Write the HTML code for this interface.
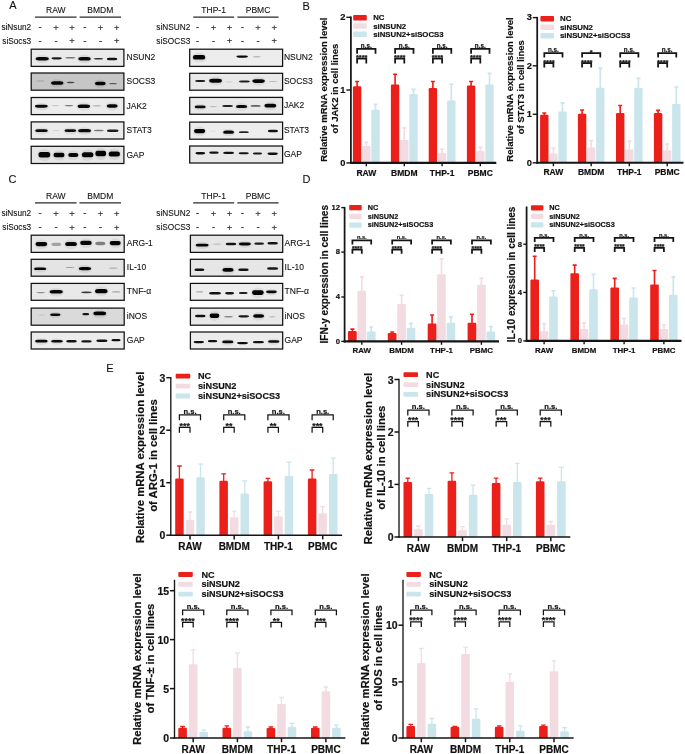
<!DOCTYPE html>
<html lang="en"><head><meta charset="utf-8"><title>Figure</title>
<style>
html,body{margin:0;padding:0;background:#fff;}
svg{display:block;}
text{font-family:'Liberation Sans', Arial, sans-serif;fill:#111;}
.r{font-weight:400;stroke:#111;stroke-width:0.1px;}
.sg{fill:#262626;stroke:#262626;stroke-width:0.12px;}
.b{font-weight:700;stroke:#111;stroke-width:0.18px;}
</style></head>
<body>
<svg width="685" height="754" viewBox="0 0 685 754">
<defs><filter id="bl" x="-5%" y="-50%" width="110%" height="200%"><feGaussianBlur stdDeviation="0.7 0.38"/></filter></defs>
<rect width="685" height="754" fill="#fff"/>
<text x="9.3" y="9.4" font-size="11" class="r">A</text>
<text x="302.5" y="9.5" font-size="11" class="r">B</text>
<text x="8.6" y="183.0" font-size="11" class="r">C</text>
<text x="302.5" y="183.0" font-size="11" class="r">D</text>
<text x="106.2" y="372.0" font-size="11" class="r">E</text>
<text x="55.8" y="13.4" font-size="8.5" class="r" text-anchor="middle">RAW</text>
<text x="100.3" y="13.4" font-size="8.5" class="r" text-anchor="middle">BMDM</text>
<line x1="35.1" y1="17.2" x2="76.6" y2="17.2" stroke="#2a2a2a" stroke-width="1.3"/>
<line x1="79.6" y1="17.2" x2="121" y2="17.2" stroke="#2a2a2a" stroke-width="1.3"/>
<text x="31.2" y="30.0" font-size="8.25" class="r" text-anchor="end">siNsun2</text>
<text x="40.2" y="29.9" font-size="9.6" class="r sg" text-anchor="middle">-</text>
<text x="56.0" y="30.5" font-size="9.4" class="r sg" text-anchor="middle">+</text>
<text x="72.1" y="30.5" font-size="9.4" class="r sg" text-anchor="middle">+</text>
<text x="84.8" y="29.9" font-size="9.6" class="r sg" text-anchor="middle">-</text>
<text x="100.6" y="30.5" font-size="9.4" class="r sg" text-anchor="middle">+</text>
<text x="116.7" y="30.5" font-size="9.4" class="r sg" text-anchor="middle">+</text>
<text x="31.2" y="43.9" font-size="8.25" class="r" text-anchor="end">siSocs3</text>
<text x="40.2" y="43.8" font-size="9.6" class="r sg" text-anchor="middle">-</text>
<text x="56.0" y="43.8" font-size="9.6" class="r sg" text-anchor="middle">-</text>
<text x="72.1" y="44.4" font-size="9.4" class="r sg" text-anchor="middle">+</text>
<text x="84.8" y="43.8" font-size="9.6" class="r sg" text-anchor="middle">-</text>
<text x="100.6" y="43.8" font-size="9.6" class="r sg" text-anchor="middle">-</text>
<text x="116.7" y="44.4" font-size="9.4" class="r sg" text-anchor="middle">+</text>
<clipPath id="cAL0"><rect x="31.2" y="49.2" width="92.7" height="17.2"/></clipPath>
<rect x="31.2" y="49.2" width="92.7" height="17.2" fill="#eaeaea"/>
<g clip-path="url(#cAL0)" filter="url(#bl)">
<ellipse cx="42.2" cy="59.0" rx="7.9" ry="4.0" fill="#000" opacity="0.07"/>
<rect x="35.7" y="57.1" width="13.1" height="3.3" rx="3.3" ry="1.7" fill="#000" opacity="0.97"/>
<rect x="51.4" y="57.3" width="10.5" height="2.1" rx="2.6" ry="1.1" fill="#000" opacity="0.88"/>
<rect x="65.2" y="56.9" width="10.2" height="1.6" rx="3.7" ry="0.8" fill="#000" opacity="0.5"/>
<ellipse cx="84.5" cy="59.0" rx="7.4" ry="4.2" fill="#000" opacity="0.07"/>
<rect x="78.3" y="57.0" width="12.4" height="3.5" rx="3.1" ry="1.8" fill="#000" opacity="0.97"/>
<rect x="93.7" y="57.9" width="9.5" height="1.6" rx="3.4" ry="0.8" fill="#000" opacity="0.8"/>
<rect x="106.8" y="57.8" width="10.5" height="2.5" rx="2.6" ry="1.3" fill="#000" opacity="0.92"/>
</g>
<rect x="31.2" y="49.2" width="92.7" height="17.2" fill="none" stroke="#111" stroke-width="1.25"/>
<text x="126.5" y="60.4" font-size="8.5" class="r">NSUN2</text>
<clipPath id="cAL1"><rect x="31.2" y="73.0" width="92.7" height="17.2"/></clipPath>
<rect x="31.2" y="73.0" width="92.7" height="17.2" fill="#c6c6c6"/>
<g clip-path="url(#cAL1)" filter="url(#bl)">
<rect x="36.4" y="80.0" width="8.0" height="1.9" rx="2.0" ry="1.0" fill="#000" opacity="0.1"/>
<ellipse cx="57.2" cy="83.2" rx="7.4" ry="4.2" fill="#000" opacity="0.07"/>
<rect x="51.1" y="81.2" width="12.3" height="3.5" rx="3.1" ry="1.8" fill="#000" opacity="0.97"/>
<rect x="66.6" y="81.8" width="8.0" height="1.4" rx="2.9" ry="0.7" fill="#000" opacity="0.65"/>
<ellipse cx="100.3" cy="83.8" rx="6.5" ry="4.2" fill="#000" opacity="0.07"/>
<rect x="94.9" y="81.8" width="10.8" height="3.5" rx="2.7" ry="1.8" fill="#000" opacity="0.97"/>
<rect x="109.0" y="83.1" width="8.0" height="1.2" rx="2.9" ry="0.6" fill="#000" opacity="0.55"/>
</g>
<rect x="31.2" y="73.0" width="92.7" height="17.2" fill="none" stroke="#111" stroke-width="1.25"/>
<text x="126.5" y="84.1" font-size="8.5" class="r">SOCS3</text>
<clipPath id="cAL2"><rect x="31.2" y="97.5" width="92.7" height="17.1"/></clipPath>
<rect x="31.2" y="97.5" width="92.7" height="17.1" fill="#ececec"/>
<g clip-path="url(#cAL2)" filter="url(#bl)">
<ellipse cx="41.4" cy="106.6" rx="7.6" ry="3.6" fill="#000" opacity="0.07"/>
<rect x="35.0" y="104.8" width="12.7" height="2.9" rx="3.2" ry="1.4" fill="#000" opacity="0.96"/>
<rect x="51.3" y="105.0" width="8.0" height="1.2" rx="2.9" ry="0.6" fill="#000" opacity="0.15"/>
<rect x="64.5" y="104.9" width="9.0" height="1.4" rx="3.2" ry="0.7" fill="#000" opacity="0.5"/>
<ellipse cx="83.8" cy="106.5" rx="7.4" ry="4.2" fill="#000" opacity="0.07"/>
<rect x="77.6" y="104.5" width="12.4" height="3.5" rx="3.1" ry="1.8" fill="#000" opacity="0.97"/>
<rect x="92.5" y="105.2" width="9.0" height="1.2" rx="3.2" ry="0.6" fill="#000" opacity="0.28"/>
<ellipse cx="112.2" cy="106.2" rx="6.6" ry="4.2" fill="#000" opacity="0.07"/>
<rect x="106.7" y="104.2" width="11.0" height="3.5" rx="2.8" ry="1.8" fill="#000" opacity="0.97"/>
</g>
<rect x="31.2" y="97.5" width="92.7" height="17.1" fill="none" stroke="#111" stroke-width="1.25"/>
<text x="126.5" y="108.6" font-size="8.5" class="r">JAK2</text>
<clipPath id="cAL3"><rect x="31.2" y="121.9" width="92.7" height="17.1"/></clipPath>
<rect x="31.2" y="121.9" width="92.7" height="17.1" fill="#ebebeb"/>
<g clip-path="url(#cAL3)" filter="url(#bl)">
<ellipse cx="41.5" cy="131.0" rx="7.4" ry="3.6" fill="#000" opacity="0.07"/>
<rect x="35.3" y="129.2" width="12.4" height="2.9" rx="3.1" ry="1.4" fill="#000" opacity="0.95"/>
<rect x="52.1" y="129.9" width="8.0" height="1.2" rx="2.9" ry="0.6" fill="#000" opacity="0.1"/>
<ellipse cx="70.3" cy="131.0" rx="7.0" ry="3.4" fill="#000" opacity="0.07"/>
<rect x="64.5" y="129.3" width="11.7" height="2.7" rx="2.9" ry="1.4" fill="#000" opacity="0.93"/>
<ellipse cx="84.6" cy="131.0" rx="7.6" ry="3.8" fill="#000" opacity="0.07"/>
<rect x="78.2" y="129.1" width="12.7" height="3.1" rx="3.2" ry="1.6" fill="#000" opacity="0.95"/>
<rect x="93.8" y="129.7" width="10.0" height="1.6" rx="3.6" ry="0.8" fill="#000" opacity="0.5"/>
<rect x="106.9" y="129.4" width="11.7" height="2.5" rx="2.9" ry="1.3" fill="#000" opacity="0.88"/>
</g>
<rect x="31.2" y="121.9" width="92.7" height="17.1" fill="none" stroke="#111" stroke-width="1.25"/>
<text x="126.5" y="133.0" font-size="8.5" class="r">STAT3</text>
<clipPath id="cAL4"><rect x="31.2" y="146.3" width="92.7" height="17.2"/></clipPath>
<rect x="31.2" y="146.3" width="92.7" height="17.2" fill="#e6e6e6"/>
<g clip-path="url(#cAL4)" filter="url(#bl)">
<ellipse cx="44.4" cy="155.1" rx="7.0" ry="6.1" fill="#000" opacity="0.07"/>
<rect x="38.5" y="152.1" width="11.7" height="5.5" rx="2.3" ry="2.8" fill="#000" opacity="0.98"/>
<ellipse cx="59.0" cy="155.3" rx="6.6" ry="5.2" fill="#000" opacity="0.07"/>
<rect x="53.5" y="152.7" width="11.0" height="4.6" rx="2.2" ry="2.3" fill="#000" opacity="0.98"/>
<ellipse cx="73.3" cy="155.3" rx="6.1" ry="4.8" fill="#000" opacity="0.07"/>
<rect x="68.2" y="152.9" width="10.2" height="4.1" rx="2.5" ry="2.0" fill="#000" opacity="0.98"/>
<ellipse cx="87.6" cy="155.1" rx="7.0" ry="5.7" fill="#000" opacity="0.07"/>
<rect x="81.8" y="152.2" width="11.7" height="5.1" rx="2.3" ry="2.5" fill="#000" opacity="0.98"/>
<ellipse cx="100.7" cy="153.9" rx="6.4" ry="6.1" fill="#000" opacity="0.07"/>
<rect x="95.4" y="150.8" width="10.7" height="5.5" rx="2.1" ry="2.8" fill="#000" opacity="0.98"/>
<ellipse cx="114.3" cy="154.3" rx="6.8" ry="5.7" fill="#000" opacity="0.07"/>
<rect x="108.6" y="151.4" width="11.4" height="5.1" rx="2.3" ry="2.5" fill="#000" opacity="0.98"/>
</g>
<rect x="31.2" y="146.3" width="92.7" height="17.2" fill="none" stroke="#111" stroke-width="1.25"/>
<text x="126.5" y="157.5" font-size="8.5" class="r">GAP</text>
<text x="213.6" y="13.4" font-size="8.5" class="r" text-anchor="middle">THP-1</text>
<text x="258.0" y="13.4" font-size="8.5" class="r" text-anchor="middle">PBMC</text>
<line x1="193.2" y1="17.2" x2="234.2" y2="17.2" stroke="#2a2a2a" stroke-width="1.3"/>
<line x1="237.4" y1="17.2" x2="278.6" y2="17.2" stroke="#2a2a2a" stroke-width="1.3"/>
<text x="190.3" y="30.0" font-size="8.25" class="r" text-anchor="end">siNSUN2</text>
<text x="197.7" y="29.9" font-size="9.6" class="r sg" text-anchor="middle">-</text>
<text x="213.5" y="30.5" font-size="9.4" class="r sg" text-anchor="middle">+</text>
<text x="229.6" y="30.5" font-size="9.4" class="r sg" text-anchor="middle">+</text>
<text x="242.3" y="29.9" font-size="9.6" class="r sg" text-anchor="middle">-</text>
<text x="258.1" y="30.5" font-size="9.4" class="r sg" text-anchor="middle">+</text>
<text x="274.2" y="30.5" font-size="9.4" class="r sg" text-anchor="middle">+</text>
<text x="190.3" y="43.9" font-size="8.25" class="r" text-anchor="end">siSOCS3</text>
<text x="197.7" y="43.8" font-size="9.6" class="r sg" text-anchor="middle">-</text>
<text x="213.5" y="43.8" font-size="9.6" class="r sg" text-anchor="middle">-</text>
<text x="229.6" y="44.4" font-size="9.4" class="r sg" text-anchor="middle">+</text>
<text x="242.3" y="43.8" font-size="9.6" class="r sg" text-anchor="middle">-</text>
<text x="258.1" y="43.8" font-size="9.6" class="r sg" text-anchor="middle">-</text>
<text x="274.2" y="44.4" font-size="9.4" class="r sg" text-anchor="middle">+</text>
<clipPath id="cAR0"><rect x="189.7" y="49.2" width="92.9" height="17.2"/></clipPath>
<rect x="189.7" y="49.2" width="92.9" height="17.2" fill="#ededed"/>
<g clip-path="url(#cAR0)" filter="url(#bl)">
<ellipse cx="199.1" cy="57.7" rx="7.4" ry="5.1" fill="#000" opacity="0.07"/>
<rect x="192.9" y="55.1" width="12.3" height="4.5" rx="2.5" ry="2.2" fill="#000" opacity="1"/>
<rect x="236.3" y="55.4" width="11.7" height="2.3" rx="2.9" ry="1.2" fill="#000" opacity="0.96"/>
<rect x="252.8" y="56.0" width="8.0" height="1.4" rx="2.9" ry="0.7" fill="#000" opacity="0.22"/>
</g>
<rect x="189.7" y="49.2" width="92.9" height="17.2" fill="none" stroke="#111" stroke-width="1.25"/>
<text x="283.9" y="60.4" font-size="8.5" class="r">NSUN2</text>
<clipPath id="cAR1"><rect x="189.7" y="73.3" width="92.9" height="16.9"/></clipPath>
<rect x="189.7" y="73.3" width="92.9" height="16.9" fill="#e9e9e9"/>
<g clip-path="url(#cAR1)" filter="url(#bl)">
<rect x="195.1" y="79.9" width="10.2" height="2.1" rx="2.5" ry="1.1" fill="#000" opacity="0.88"/>
<ellipse cx="215.6" cy="81.0" rx="7.6" ry="4.6" fill="#000" opacity="0.07"/>
<rect x="209.2" y="78.8" width="12.7" height="3.9" rx="3.2" ry="1.9" fill="#000" opacity="0.98"/>
<rect x="225.1" y="81.2" width="8.0" height="1.2" rx="2.9" ry="0.6" fill="#000" opacity="0.1"/>
<rect x="238.9" y="80.4" width="11.0" height="2.1" rx="2.8" ry="1.1" fill="#000" opacity="0.88"/>
<ellipse cx="258.6" cy="81.3" rx="7.4" ry="4.4" fill="#000" opacity="0.07"/>
<rect x="252.4" y="79.2" width="12.4" height="3.7" rx="3.1" ry="1.8" fill="#000" opacity="0.98"/>
<rect x="268.5" y="80.9" width="9.0" height="1.2" rx="3.2" ry="0.6" fill="#000" opacity="0.2"/>
</g>
<rect x="189.7" y="73.3" width="92.9" height="16.9" fill="none" stroke="#111" stroke-width="1.25"/>
<text x="283.9" y="84.3" font-size="8.5" class="r">SOCS3</text>
<clipPath id="cAR2"><rect x="189.7" y="97.4" width="92.9" height="16.9"/></clipPath>
<rect x="189.7" y="97.4" width="92.9" height="16.9" fill="#e8e8e8"/>
<g clip-path="url(#cAR2)" filter="url(#bl)">
<ellipse cx="200.2" cy="107.2" rx="6.6" ry="3.4" fill="#000" opacity="0.07"/>
<rect x="194.7" y="105.6" width="11.0" height="2.7" rx="2.8" ry="1.4" fill="#000" opacity="0.95"/>
<rect x="209.3" y="106.0" width="8.0" height="1.2" rx="2.9" ry="0.6" fill="#000" opacity="0.18"/>
<rect x="222.2" y="105.0" width="10.8" height="2.1" rx="2.7" ry="1.1" fill="#000" opacity="0.85"/>
<ellipse cx="241.6" cy="106.9" rx="6.7" ry="3.8" fill="#000" opacity="0.07"/>
<rect x="236.0" y="105.0" width="11.2" height="3.1" rx="2.8" ry="1.6" fill="#000" opacity="0.96"/>
<rect x="250.6" y="105.0" width="10.0" height="1.8" rx="3.6" ry="0.9" fill="#000" opacity="0.6"/>
<ellipse cx="270.4" cy="105.9" rx="7.0" ry="4.4" fill="#000" opacity="0.07"/>
<rect x="264.5" y="103.8" width="11.7" height="3.7" rx="2.9" ry="1.8" fill="#000" opacity="0.98"/>
</g>
<rect x="189.7" y="97.4" width="92.9" height="16.9" fill="none" stroke="#111" stroke-width="1.25"/>
<text x="283.9" y="108.4" font-size="8.5" class="r">JAK2</text>
<clipPath id="cAR3"><rect x="189.7" y="122.1" width="92.9" height="17.1"/></clipPath>
<rect x="189.7" y="122.1" width="92.9" height="17.1" fill="#ededed"/>
<g clip-path="url(#cAR3)" filter="url(#bl)">
<ellipse cx="199.6" cy="131.4" rx="6.7" ry="4.9" fill="#000" opacity="0.07"/>
<rect x="194.0" y="128.9" width="11.2" height="4.3" rx="2.2" ry="2.1" fill="#000" opacity="1"/>
<rect x="210.0" y="130.7" width="6.0" height="1.2" rx="2.2" ry="0.6" fill="#000" opacity="0.07"/>
<ellipse cx="228.6" cy="132.5" rx="6.6" ry="3.8" fill="#000" opacity="0.07"/>
<rect x="223.1" y="130.6" width="11.0" height="3.1" rx="2.8" ry="1.6" fill="#000" opacity="0.97"/>
<rect x="238.8" y="131.2" width="10.0" height="1.9" rx="2.5" ry="1.0" fill="#000" opacity="0.85"/>
<rect x="267.8" y="129.8" width="10.2" height="2.5" rx="2.5" ry="1.3" fill="#000" opacity="0.92"/>
</g>
<rect x="189.7" y="122.1" width="92.9" height="17.1" fill="none" stroke="#111" stroke-width="1.25"/>
<text x="283.9" y="133.2" font-size="8.5" class="r">STAT3</text>
<clipPath id="cAR4"><rect x="189.7" y="146.0" width="92.9" height="17.0"/></clipPath>
<rect x="189.7" y="146.0" width="92.9" height="17.0" fill="#e9e9e9"/>
<g clip-path="url(#cAR4)" filter="url(#bl)">
<rect x="195.4" y="152.1" width="9.8" height="2.3" rx="2.5" ry="1.2" fill="#000" opacity="0.93"/>
<rect x="209.2" y="151.6" width="9.5" height="2.1" rx="2.4" ry="1.1" fill="#000" opacity="0.92"/>
<rect x="223.1" y="151.8" width="11.0" height="2.3" rx="2.8" ry="1.2" fill="#000" opacity="0.93"/>
<rect x="238.6" y="152.2" width="10.2" height="2.1" rx="2.5" ry="1.1" fill="#000" opacity="0.92"/>
<rect x="252.8" y="152.5" width="9.3" height="1.9" rx="2.3" ry="1.0" fill="#000" opacity="0.9"/>
<rect x="267.4" y="152.6" width="10.5" height="2.3" rx="2.6" ry="1.2" fill="#000" opacity="0.93"/>
</g>
<rect x="189.7" y="146.0" width="92.9" height="17.0" fill="none" stroke="#111" stroke-width="1.25"/>
<text x="283.9" y="157.1" font-size="8.5" class="r">GAP</text>
<text x="55.8" y="199.3" font-size="8.5" class="r" text-anchor="middle">RAW</text>
<text x="100.3" y="199.3" font-size="8.5" class="r" text-anchor="middle">BMDM</text>
<line x1="35.1" y1="202.8" x2="76.6" y2="202.8" stroke="#2a2a2a" stroke-width="1.3"/>
<line x1="79.4" y1="202.8" x2="121" y2="202.8" stroke="#2a2a2a" stroke-width="1.3"/>
<text x="31.2" y="216.2" font-size="8.25" class="r" text-anchor="end">siNsun2</text>
<text x="40.2" y="216.1" font-size="9.6" class="r sg" text-anchor="middle">-</text>
<text x="56.0" y="216.7" font-size="9.4" class="r sg" text-anchor="middle">+</text>
<text x="72.1" y="216.7" font-size="9.4" class="r sg" text-anchor="middle">+</text>
<text x="84.8" y="216.1" font-size="9.6" class="r sg" text-anchor="middle">-</text>
<text x="100.6" y="216.7" font-size="9.4" class="r sg" text-anchor="middle">+</text>
<text x="116.7" y="216.7" font-size="9.4" class="r sg" text-anchor="middle">+</text>
<text x="31.2" y="230.2" font-size="8.25" class="r" text-anchor="end">siSocs3</text>
<text x="40.2" y="230.1" font-size="9.6" class="r sg" text-anchor="middle">-</text>
<text x="56.0" y="230.1" font-size="9.6" class="r sg" text-anchor="middle">-</text>
<text x="72.1" y="230.7" font-size="9.4" class="r sg" text-anchor="middle">+</text>
<text x="84.8" y="230.1" font-size="9.6" class="r sg" text-anchor="middle">-</text>
<text x="100.6" y="230.1" font-size="9.6" class="r sg" text-anchor="middle">-</text>
<text x="116.7" y="230.7" font-size="9.4" class="r sg" text-anchor="middle">+</text>
<clipPath id="cCL0"><rect x="31.2" y="235.2" width="93.0" height="17.2"/></clipPath>
<rect x="31.2" y="235.2" width="93.0" height="17.2" fill="#e8e8e8"/>
<g clip-path="url(#cCL0)" filter="url(#bl)">
<ellipse cx="41.4" cy="244.4" rx="7.0" ry="4.9" fill="#000" opacity="0.07"/>
<rect x="35.5" y="241.9" width="11.7" height="4.3" rx="2.3" ry="2.1" fill="#000" opacity="0.98"/>
<rect x="51.3" y="242.8" width="10.0" height="3.1" rx="2.5" ry="1.6" fill="#000" opacity="0.3"/>
<ellipse cx="71.1" cy="244.3" rx="7.0" ry="4.8" fill="#000" opacity="0.07"/>
<rect x="65.2" y="241.9" width="11.7" height="4.1" rx="2.9" ry="2.0" fill="#000" opacity="0.98"/>
<ellipse cx="86.0" cy="243.3" rx="6.9" ry="4.9" fill="#000" opacity="0.07"/>
<rect x="80.2" y="240.8" width="11.5" height="4.3" rx="2.3" ry="2.1" fill="#000" opacity="0.98"/>
<rect x="95.2" y="241.7" width="10.2" height="3.5" rx="2.5" ry="1.8" fill="#000" opacity="0.45"/>
<ellipse cx="115.2" cy="243.4" rx="6.6" ry="4.9" fill="#000" opacity="0.07"/>
<rect x="109.7" y="240.9" width="11.0" height="4.3" rx="2.2" ry="2.1" fill="#000" opacity="0.98"/>
</g>
<rect x="31.2" y="235.2" width="93.0" height="17.2" fill="none" stroke="#111" stroke-width="1.25"/>
<text x="126.8" y="246.4" font-size="8.5" class="r">ARG-1</text>
<clipPath id="cCL1"><rect x="31.2" y="259.3" width="93.0" height="16.9"/></clipPath>
<rect x="31.2" y="259.3" width="93.0" height="16.9" fill="#e4e4e4"/>
<g clip-path="url(#cCL1)" filter="url(#bl)">
<ellipse cx="40.1" cy="269.2" rx="7.3" ry="3.2" fill="#000" opacity="0.07"/>
<rect x="34.1" y="267.6" width="12.1" height="2.5" rx="3.0" ry="1.2" fill="#000" opacity="0.97"/>
<rect x="65.5" y="266.9" width="9.0" height="1.2" rx="3.2" ry="0.6" fill="#000" opacity="0.3"/>
<ellipse cx="84.9" cy="268.8" rx="7.4" ry="4.0" fill="#000" opacity="0.07"/>
<rect x="78.8" y="266.9" width="12.3" height="3.3" rx="3.1" ry="1.7" fill="#000" opacity="0.98"/>
<rect x="108.9" y="267.5" width="9.0" height="1.2" rx="3.2" ry="0.6" fill="#000" opacity="0.25"/>
</g>
<rect x="31.2" y="259.3" width="93.0" height="16.9" fill="none" stroke="#111" stroke-width="1.25"/>
<text x="126.8" y="270.3" font-size="8.5" class="r">IL-10</text>
<clipPath id="cCL2"><rect x="31.2" y="283.4" width="93.0" height="16.9"/></clipPath>
<rect x="31.2" y="283.4" width="93.0" height="16.9" fill="#e9e9e9"/>
<g clip-path="url(#cCL2)" filter="url(#bl)">
<rect x="36.2" y="291.9" width="9.0" height="1.4" rx="3.2" ry="0.7" fill="#000" opacity="0.4"/>
<ellipse cx="56.2" cy="292.2" rx="7.9" ry="4.2" fill="#000" opacity="0.07"/>
<rect x="49.7" y="290.1" width="13.1" height="3.5" rx="3.3" ry="1.8" fill="#000" opacity="0.98"/>
<rect x="81.2" y="291.4" width="10.5" height="1.8" rx="3.8" ry="0.9" fill="#000" opacity="0.75"/>
<ellipse cx="101.3" cy="291.4" rx="7.4" ry="4.8" fill="#000" opacity="0.07"/>
<rect x="95.1" y="289.1" width="12.4" height="4.1" rx="3.1" ry="2.0" fill="#000" opacity="1"/>
<rect x="111.7" y="291.2" width="9.0" height="1.4" rx="3.2" ry="0.7" fill="#000" opacity="0.3"/>
</g>
<rect x="31.2" y="283.4" width="93.0" height="16.9" fill="none" stroke="#111" stroke-width="1.25"/>
<text x="126.8" y="294.4" font-size="8.5" class="r">TNF-α</text>
<clipPath id="cCL3"><rect x="31.2" y="308.1" width="93.0" height="17.1"/></clipPath>
<rect x="31.2" y="308.1" width="93.0" height="17.1" fill="#dadada"/>
<g clip-path="url(#cCL3)" filter="url(#bl)">
<rect x="38.4" y="314.4" width="7.0" height="1.2" rx="2.5" ry="0.6" fill="#000" opacity="0.1"/>
<ellipse cx="55.3" cy="315.0" rx="6.1" ry="3.2" fill="#000" opacity="0.07"/>
<rect x="50.2" y="313.4" width="10.2" height="2.5" rx="2.5" ry="1.2" fill="#000" opacity="0.96"/>
<rect x="82.4" y="313.1" width="6.7" height="2.1" rx="1.7" ry="1.1" fill="#000" opacity="0.9"/>
<ellipse cx="99.7" cy="313.8" rx="7.6" ry="4.4" fill="#000" opacity="0.07"/>
<rect x="93.4" y="311.6" width="12.7" height="3.7" rx="3.2" ry="1.8" fill="#000" opacity="0.99"/>
</g>
<rect x="31.2" y="308.1" width="93.0" height="17.1" fill="none" stroke="#111" stroke-width="1.25"/>
<text x="126.8" y="319.2" font-size="8.5" class="r">iNOS</text>
<clipPath id="cCL4"><rect x="31.2" y="332.0" width="93.0" height="17.0"/></clipPath>
<rect x="31.2" y="332.0" width="93.0" height="17.0" fill="#ececec"/>
<g clip-path="url(#cCL4)" filter="url(#bl)">
<ellipse cx="41.4" cy="341.5" rx="7.4" ry="3.4" fill="#000" opacity="0.07"/>
<rect x="35.2" y="339.8" width="12.4" height="2.7" rx="3.1" ry="1.4" fill="#000" opacity="0.96"/>
<ellipse cx="57.0" cy="341.5" rx="6.8" ry="3.2" fill="#000" opacity="0.07"/>
<rect x="51.3" y="339.9" width="11.4" height="2.5" rx="2.9" ry="1.2" fill="#000" opacity="0.96"/>
<rect x="66.2" y="339.9" width="10.6" height="2.5" rx="2.6" ry="1.3" fill="#000" opacity="0.93"/>
<rect x="81.2" y="340.3" width="10.5" height="2.3" rx="2.6" ry="1.2" fill="#000" opacity="0.92"/>
<rect x="96.3" y="339.5" width="11.2" height="2.5" rx="2.8" ry="1.3" fill="#000" opacity="0.93"/>
<rect x="111.4" y="339.0" width="9.2" height="2.3" rx="2.3" ry="1.2" fill="#000" opacity="0.94"/>
</g>
<rect x="31.2" y="332.0" width="93.0" height="17.0" fill="none" stroke="#111" stroke-width="1.25"/>
<text x="126.8" y="343.1" font-size="8.5" class="r">GAP</text>
<text x="213.6" y="199.3" font-size="8.5" class="r" text-anchor="middle">THP-1</text>
<text x="258.0" y="199.3" font-size="8.5" class="r" text-anchor="middle">PBMC</text>
<line x1="193.2" y1="202.8" x2="234.2" y2="202.8" stroke="#2a2a2a" stroke-width="1.3"/>
<line x1="237.4" y1="202.8" x2="278.6" y2="202.8" stroke="#2a2a2a" stroke-width="1.3"/>
<text x="190.3" y="216.2" font-size="8.25" class="r" text-anchor="end">siNSUN2</text>
<text x="197.7" y="216.1" font-size="9.6" class="r sg" text-anchor="middle">-</text>
<text x="213.5" y="216.7" font-size="9.4" class="r sg" text-anchor="middle">+</text>
<text x="229.6" y="216.7" font-size="9.4" class="r sg" text-anchor="middle">+</text>
<text x="242.3" y="216.1" font-size="9.6" class="r sg" text-anchor="middle">-</text>
<text x="258.1" y="216.7" font-size="9.4" class="r sg" text-anchor="middle">+</text>
<text x="274.2" y="216.7" font-size="9.4" class="r sg" text-anchor="middle">+</text>
<text x="190.3" y="230.2" font-size="8.25" class="r" text-anchor="end">siSOCS3</text>
<text x="197.7" y="230.1" font-size="9.6" class="r sg" text-anchor="middle">-</text>
<text x="213.5" y="230.1" font-size="9.6" class="r sg" text-anchor="middle">-</text>
<text x="229.6" y="230.7" font-size="9.4" class="r sg" text-anchor="middle">+</text>
<text x="242.3" y="230.1" font-size="9.6" class="r sg" text-anchor="middle">-</text>
<text x="258.1" y="230.1" font-size="9.6" class="r sg" text-anchor="middle">-</text>
<text x="274.2" y="230.7" font-size="9.4" class="r sg" text-anchor="middle">+</text>
<clipPath id="cCR0"><rect x="190.4" y="235.2" width="92.3" height="17.2"/></clipPath>
<rect x="190.4" y="235.2" width="92.3" height="17.2" fill="#e6e6e6"/>
<g clip-path="url(#cCR0)" filter="url(#bl)">
<ellipse cx="202.2" cy="245.4" rx="7.6" ry="3.6" fill="#000" opacity="0.07"/>
<rect x="195.8" y="243.7" width="12.7" height="2.9" rx="3.2" ry="1.4" fill="#000" opacity="0.97"/>
<rect x="212.5" y="243.5" width="9.0" height="1.2" rx="3.2" ry="0.6" fill="#000" opacity="0.18"/>
<rect x="225.7" y="242.7" width="10.6" height="2.5" rx="2.6" ry="1.3" fill="#000" opacity="0.92"/>
<ellipse cx="244.8" cy="244.3" rx="7.3" ry="3.6" fill="#000" opacity="0.07"/>
<rect x="238.8" y="242.6" width="12.1" height="2.9" rx="3.0" ry="1.4" fill="#000" opacity="0.97"/>
<rect x="254.2" y="242.6" width="9.8" height="2.1" rx="2.5" ry="1.1" fill="#000" opacity="0.88"/>
<rect x="267.4" y="242.1" width="10.5" height="2.5" rx="2.6" ry="1.3" fill="#000" opacity="0.92"/>
</g>
<rect x="190.4" y="235.2" width="92.3" height="17.2" fill="none" stroke="#111" stroke-width="1.25"/>
<text x="284.6" y="246.4" font-size="8.5" class="r">ARG-1</text>
<clipPath id="cCR1"><rect x="190.4" y="259.3" width="92.3" height="16.9"/></clipPath>
<rect x="190.4" y="259.3" width="92.3" height="16.9" fill="#e6e6e6"/>
<g clip-path="url(#cCR1)" filter="url(#bl)">
<rect x="194.4" y="268.4" width="10.0" height="2.5" rx="2.5" ry="1.3" fill="#000" opacity="0.93"/>
<ellipse cx="228.0" cy="270.3" rx="6.7" ry="4.4" fill="#000" opacity="0.07"/>
<rect x="222.4" y="268.1" width="11.2" height="3.7" rx="2.8" ry="1.8" fill="#000" opacity="0.98"/>
<rect x="238.2" y="268.4" width="10.5" height="2.5" rx="2.6" ry="1.3" fill="#000" opacity="0.92"/>
<rect x="267.0" y="267.2" width="11.2" height="2.5" rx="2.8" ry="1.3" fill="#000" opacity="0.9"/>
</g>
<rect x="190.4" y="259.3" width="92.3" height="16.9" fill="none" stroke="#111" stroke-width="1.25"/>
<text x="284.6" y="270.3" font-size="8.5" class="r">IL-10</text>
<clipPath id="cCR2"><rect x="190.4" y="283.4" width="92.3" height="16.9"/></clipPath>
<rect x="190.4" y="283.4" width="92.3" height="16.9" fill="#ededed"/>
<g clip-path="url(#cCR2)" filter="url(#bl)">
<rect x="195.9" y="291.3" width="7.5" height="1.2" rx="2.7" ry="0.6" fill="#000" opacity="0.3"/>
<rect x="209.0" y="292.0" width="12.0" height="2.5" rx="3.0" ry="1.3" fill="#000" opacity="0.93"/>
<rect x="225.1" y="292.1" width="9.0" height="2.3" rx="2.2" ry="1.2" fill="#000" opacity="0.9"/>
<rect x="238.8" y="292.0" width="8.8" height="1.9" rx="2.2" ry="1.0" fill="#000" opacity="0.88"/>
<ellipse cx="257.8" cy="292.9" rx="7.0" ry="5.3" fill="#000" opacity="0.07"/>
<rect x="252.0" y="290.2" width="11.7" height="4.7" rx="2.3" ry="2.3" fill="#000" opacity="1"/>
<ellipse cx="271.4" cy="292.2" rx="6.5" ry="3.4" fill="#000" opacity="0.07"/>
<rect x="266.0" y="290.5" width="10.8" height="2.7" rx="2.7" ry="1.4" fill="#000" opacity="0.96"/>
</g>
<rect x="190.4" y="283.4" width="92.3" height="16.9" fill="none" stroke="#111" stroke-width="1.25"/>
<text x="284.6" y="294.4" font-size="8.5" class="r">TNF-α</text>
<clipPath id="cCR3"><rect x="190.4" y="308.1" width="92.3" height="17.1"/></clipPath>
<rect x="190.4" y="308.1" width="92.3" height="17.1" fill="#e8e8e8"/>
<g clip-path="url(#cCR3)" filter="url(#bl)">
<rect x="195.0" y="314.7" width="10.6" height="2.5" rx="2.6" ry="1.3" fill="#000" opacity="0.93"/>
<ellipse cx="214.5" cy="316.0" rx="5.8" ry="4.9" fill="#000" opacity="0.07"/>
<rect x="209.7" y="313.6" width="9.6" height="4.3" rx="1.9" ry="2.1" fill="#000" opacity="0.99"/>
<rect x="224.0" y="316.1" width="9.0" height="1.4" rx="3.2" ry="0.7" fill="#000" opacity="0.42"/>
<rect x="238.3" y="315.2" width="10.8" height="2.3" rx="2.7" ry="1.2" fill="#000" opacity="0.9"/>
<ellipse cx="258.6" cy="316.3" rx="6.6" ry="4.2" fill="#000" opacity="0.07"/>
<rect x="253.1" y="314.2" width="11.0" height="3.5" rx="2.8" ry="1.8" fill="#000" opacity="0.98"/>
<rect x="269.1" y="316.2" width="6.5" height="1.2" rx="2.3" ry="0.6" fill="#000" opacity="0.22"/>
</g>
<rect x="190.4" y="308.1" width="92.3" height="17.1" fill="none" stroke="#111" stroke-width="1.25"/>
<text x="284.6" y="319.2" font-size="8.5" class="r">iNOS</text>
<clipPath id="cCR4"><rect x="190.4" y="332.0" width="92.3" height="17.0"/></clipPath>
<rect x="190.4" y="332.0" width="92.3" height="17.0" fill="#ececec"/>
<g clip-path="url(#cCR4)" filter="url(#bl)">
<rect x="193.5" y="340.9" width="10.6" height="2.3" rx="2.6" ry="1.2" fill="#000" opacity="0.95"/>
<rect x="207.8" y="340.0" width="9.5" height="2.3" rx="2.4" ry="1.2" fill="#000" opacity="0.93"/>
<ellipse cx="227.8" cy="342.3" rx="6.7" ry="3.4" fill="#000" opacity="0.07"/>
<rect x="222.2" y="340.6" width="11.2" height="2.7" rx="2.8" ry="1.4" fill="#000" opacity="0.96"/>
<rect x="237.0" y="341.9" width="11.0" height="2.3" rx="2.8" ry="1.2" fill="#000" opacity="0.95"/>
<rect x="252.8" y="341.0" width="11.2" height="2.3" rx="2.8" ry="1.2" fill="#000" opacity="0.93"/>
<ellipse cx="273.7" cy="341.8" rx="6.8" ry="3.2" fill="#000" opacity="0.07"/>
<rect x="268.0" y="340.2" width="11.4" height="2.5" rx="2.9" ry="1.2" fill="#000" opacity="0.96"/>
</g>
<rect x="190.4" y="332.0" width="92.3" height="17.0" fill="none" stroke="#111" stroke-width="1.25"/>
<text x="284.6" y="343.1" font-size="8.5" class="r">GAP</text>
<path d="M357.1 87.2V81.5M355.1 81.5H359.1" stroke="#EB201B" stroke-width="1.65" fill="none"/>
<path d="M352.9 162.9V87.4Q352.9 86.2 354.1 86.2H360.1Q361.3 86.2 361.3 87.4V162.9Z" fill="#EB201B"/>
<path d="M366.3 147.0V142.4M364.3 142.4H368.3" stroke="#F2DCE1" stroke-width="1.65" fill="none"/>
<path d="M362.1 162.9V147.2Q362.1 146.0 363.3 146.0H369.3Q370.5 146.0 370.5 147.2V162.9Z" fill="#F2DCE1"/>
<path d="M375.5 110.7V104.3M373.5 104.3H377.5" stroke="#CBE5EC" stroke-width="1.65" fill="none"/>
<path d="M371.3 162.9V110.9Q371.3 109.7 372.5 109.7H378.5Q379.7 109.7 379.7 110.9V162.9Z" fill="#CBE5EC"/>
<path d="M395.1 85.6V74.2M393.1 74.2H397.1" stroke="#EB201B" stroke-width="1.65" fill="none"/>
<path d="M390.9 162.9V85.8Q390.9 84.6 392.1 84.6H398.1Q399.3 84.6 399.3 85.8V162.9Z" fill="#EB201B"/>
<path d="M404.3 140.9V127.9M402.3 127.9H406.3" stroke="#F2DCE1" stroke-width="1.65" fill="none"/>
<path d="M400.1 162.9V141.1Q400.1 139.9 401.3 139.9H407.3Q408.5 139.9 408.5 141.1V162.9Z" fill="#F2DCE1"/>
<path d="M413.5 95.0V89.4M411.5 89.4H415.5" stroke="#CBE5EC" stroke-width="1.65" fill="none"/>
<path d="M409.3 162.9V95.2Q409.3 94.0 410.5 94.0H416.5Q417.7 94.0 417.7 95.2V162.9Z" fill="#CBE5EC"/>
<path d="M432.9 89.0V81.5M430.9 81.5H434.9" stroke="#EB201B" stroke-width="1.65" fill="none"/>
<path d="M428.7 162.9V89.2Q428.7 88.0 429.9 88.0H435.9Q437.1 88.0 437.1 89.2V162.9Z" fill="#EB201B"/>
<path d="M442.1 154.0V149.2M440.1 149.2H444.1" stroke="#F2DCE1" stroke-width="1.65" fill="none"/>
<path d="M437.9 162.9V154.2Q437.9 153.0 439.1 153.0H445.1Q446.3 153.0 446.3 154.2V162.9Z" fill="#F2DCE1"/>
<path d="M451.3 101.5V84.2M449.3 84.2H453.3" stroke="#CBE5EC" stroke-width="1.65" fill="none"/>
<path d="M447.1 162.9V101.7Q447.1 100.5 448.3 100.5H454.3Q455.5 100.5 455.5 101.7V162.9Z" fill="#CBE5EC"/>
<path d="M471.1 86.4V81.5M469.1 81.5H473.1" stroke="#EB201B" stroke-width="1.65" fill="none"/>
<path d="M466.9 162.9V86.6Q466.9 85.4 468.1 85.4H474.1Q475.3 85.4 475.3 86.6V162.9Z" fill="#EB201B"/>
<path d="M480.3 152.0V147.1M478.3 147.1H482.3" stroke="#F2DCE1" stroke-width="1.65" fill="none"/>
<path d="M476.1 162.9V152.2Q476.1 151.0 477.3 151.0H483.3Q484.5 151.0 484.5 152.2V162.9Z" fill="#F2DCE1"/>
<path d="M489.5 85.6V73.4M487.5 73.4H491.5" stroke="#CBE5EC" stroke-width="1.65" fill="none"/>
<path d="M485.3 162.9V85.8Q485.3 84.6 486.5 84.6H492.5Q493.7 84.6 493.7 85.8V162.9Z" fill="#CBE5EC"/>
<path d="M350.9 16.6V163.95" stroke="#151515" stroke-width="1.75" fill="none"/>
<path d="M350.02 162.9H496.3" stroke="#151515" stroke-width="2.1" fill="none"/>
<line x1="346.4" y1="17.3" x2="350.9" y2="17.3" stroke="#151515" stroke-width="1.4"/>
<text x="345.5" y="20.1" font-size="9.3" class="b" text-anchor="end">2</text>
<line x1="346.4" y1="90" x2="350.9" y2="90" stroke="#151515" stroke-width="1.4"/>
<text x="345.5" y="92.8" font-size="9.3" class="b" text-anchor="end">1</text>
<line x1="346.4" y1="162.9" x2="350.9" y2="162.9" stroke="#151515" stroke-width="1.4"/>
<text x="345.5" y="165.7" font-size="9.3" class="b" text-anchor="end">0</text>
<line x1="366.3" y1="162.9" x2="366.3" y2="166.3" stroke="#151515" stroke-width="1.4"/>
<text x="366.3" y="175.8" font-size="8.5" class="b" text-anchor="middle">RAW</text>
<line x1="404.3" y1="162.9" x2="404.3" y2="166.3" stroke="#151515" stroke-width="1.4"/>
<text x="404.3" y="175.8" font-size="8.5" class="b" text-anchor="middle">BMDM</text>
<line x1="442.1" y1="162.9" x2="442.1" y2="166.3" stroke="#151515" stroke-width="1.4"/>
<text x="442.1" y="175.8" font-size="8.5" class="b" text-anchor="middle">THP-1</text>
<line x1="480.3" y1="162.9" x2="480.3" y2="166.3" stroke="#151515" stroke-width="1.4"/>
<text x="480.3" y="175.8" font-size="8.5" class="b" text-anchor="middle">PBMC</text>
<rect x="353.2" y="15.1" width="13.6" height="5.5" rx="0.8" fill="#EB201B"/>
<text x="373.2" y="20.3" font-size="7.8" class="b">NC</text>
<rect x="353.2" y="23.2" width="13.6" height="5.5" rx="0.8" fill="#F2DCE1"/>
<text x="373.2" y="28.5" font-size="7.8" class="b">siNSUN2</text>
<rect x="353.2" y="31.5" width="13.6" height="5.5" rx="0.8" fill="#CBE5EC"/>
<text x="373.2" y="36.7" font-size="7.8" class="b">siNSUN2+siSOCS3</text>
<path d="M357.1 53.8V48.8H375.5V53.8" stroke="#151515" stroke-width="1.75" fill="none"/>
<path d="M357.1 63.5V58.5H366.3V63.5" stroke="#151515" stroke-width="1.75" fill="none"/>
<text x="366.3" y="47.8" font-size="6.3" class="b" text-anchor="middle">n.s.</text>
<text x="361.7" y="60.2" font-size="7.40" class="b" text-anchor="middle">****</text>
<path d="M395.1 53.8V48.8H413.5V53.8" stroke="#151515" stroke-width="1.75" fill="none"/>
<path d="M395.1 63.5V58.5H404.3V63.5" stroke="#151515" stroke-width="1.75" fill="none"/>
<text x="404.3" y="47.8" font-size="6.3" class="b" text-anchor="middle">n.s.</text>
<text x="399.7" y="60.2" font-size="7.40" class="b" text-anchor="middle">****</text>
<path d="M432.9 53.8V48.8H451.3V53.8" stroke="#151515" stroke-width="1.75" fill="none"/>
<path d="M432.9 63.5V58.5H442.1V63.5" stroke="#151515" stroke-width="1.75" fill="none"/>
<text x="442.1" y="47.8" font-size="6.3" class="b" text-anchor="middle">n.s.</text>
<text x="437.5" y="60.2" font-size="7.40" class="b" text-anchor="middle">****</text>
<path d="M471.1 53.8V48.8H489.5V53.8" stroke="#151515" stroke-width="1.75" fill="none"/>
<path d="M471.1 63.5V58.5H480.3V63.5" stroke="#151515" stroke-width="1.75" fill="none"/>
<text x="480.3" y="47.8" font-size="6.3" class="b" text-anchor="middle">n.s.</text>
<text x="475.7" y="60.2" font-size="7.40" class="b" text-anchor="middle">****</text>
<text transform="translate(327.3 89.7) rotate(-90)" font-size="9.5" class="b" text-anchor="middle">Relative mRNA expression level</text>
<text transform="translate(338.0 88.5) rotate(-90)" font-size="9.5" class="b" text-anchor="middle">of JAK2 in cell lines</text>
<path d="M544.3 115.8V113.0M542.3 113.0H546.3" stroke="#EB201B" stroke-width="1.65" fill="none"/>
<path d="M540.1 162.8V116.0Q540.1 114.8 541.3 114.8H547.3Q548.5 114.8 548.5 116.0V162.8Z" fill="#EB201B"/>
<path d="M553.4 154.5V148.1M551.4 148.1H555.4" stroke="#F2DCE1" stroke-width="1.65" fill="none"/>
<path d="M549.2 162.8V154.7Q549.2 153.5 550.4 153.5H556.4Q557.6 153.5 557.6 154.7V162.8Z" fill="#F2DCE1"/>
<path d="M562.5 112.6V102.8M560.5 102.8H564.5" stroke="#CBE5EC" stroke-width="1.65" fill="none"/>
<path d="M558.3 162.8V112.8Q558.3 111.6 559.5 111.6H565.5Q566.7 111.6 566.7 112.8V162.8Z" fill="#CBE5EC"/>
<path d="M582.1 114.8V110.0M580.1 110.0H584.1" stroke="#EB201B" stroke-width="1.65" fill="none"/>
<path d="M577.9 162.8V115.0Q577.9 113.8 579.1 113.8H585.1Q586.3 113.8 586.3 115.0V162.8Z" fill="#EB201B"/>
<path d="M591.2 148.5V140.6M589.2 140.6H593.2" stroke="#F2DCE1" stroke-width="1.65" fill="none"/>
<path d="M587.0 162.8V148.7Q587.0 147.5 588.2 147.5H594.2Q595.4 147.5 595.4 148.7V162.8Z" fill="#F2DCE1"/>
<path d="M600.3 88.8V68.1M598.3 68.1H602.3" stroke="#CBE5EC" stroke-width="1.65" fill="none"/>
<path d="M596.1 162.8V89.0Q596.1 87.8 597.3 87.8H603.3Q604.5 87.8 604.5 89.0V162.8Z" fill="#CBE5EC"/>
<path d="M620.2 114.0V105.5M618.2 105.5H622.2" stroke="#EB201B" stroke-width="1.65" fill="none"/>
<path d="M616.0 162.8V114.2Q616.0 113.0 617.2 113.0H623.2Q624.4 113.0 624.4 114.2V162.8Z" fill="#EB201B"/>
<path d="M629.3 150.4V141.1M627.3 141.1H631.3" stroke="#F2DCE1" stroke-width="1.65" fill="none"/>
<path d="M625.1 162.8V150.6Q625.1 149.4 626.3 149.4H632.3Q633.5 149.4 633.5 150.6V162.8Z" fill="#F2DCE1"/>
<path d="M638.4 88.8V78.4M636.4 78.4H640.4" stroke="#CBE5EC" stroke-width="1.65" fill="none"/>
<path d="M634.2 162.8V89.0Q634.2 87.8 635.4 87.8H641.4Q642.6 87.8 642.6 89.0V162.8Z" fill="#CBE5EC"/>
<path d="M658.1 114.0V110.3M656.1 110.3H660.1" stroke="#EB201B" stroke-width="1.65" fill="none"/>
<path d="M653.9 162.8V114.2Q653.9 113.0 655.1 113.0H661.1Q662.3 113.0 662.3 114.2V162.8Z" fill="#EB201B"/>
<path d="M667.2 151.2V144.1M665.2 144.1H669.2" stroke="#F2DCE1" stroke-width="1.65" fill="none"/>
<path d="M663.0 162.8V151.4Q663.0 150.2 664.2 150.2H670.2Q671.4 150.2 671.4 151.4V162.8Z" fill="#F2DCE1"/>
<path d="M676.3 105.0V87.0M674.3 87.0H678.3" stroke="#CBE5EC" stroke-width="1.65" fill="none"/>
<path d="M672.1 162.8V105.2Q672.1 104.0 673.3 104.0H679.3Q680.5 104.0 680.5 105.2V162.8Z" fill="#CBE5EC"/>
<path d="M537.2 16.900000000000002V163.85" stroke="#151515" stroke-width="1.75" fill="none"/>
<path d="M536.33 162.8H683.5" stroke="#151515" stroke-width="2.1" fill="none"/>
<line x1="532.7" y1="17.6" x2="537.2" y2="17.6" stroke="#151515" stroke-width="1.4"/>
<text x="531.8" y="20.4" font-size="9.3" class="b" text-anchor="end">3</text>
<line x1="532.7" y1="65.8" x2="537.2" y2="65.8" stroke="#151515" stroke-width="1.4"/>
<text x="531.8" y="68.6" font-size="9.3" class="b" text-anchor="end">2</text>
<line x1="532.7" y1="114.3" x2="537.2" y2="114.3" stroke="#151515" stroke-width="1.4"/>
<text x="531.8" y="117.1" font-size="9.3" class="b" text-anchor="end">1</text>
<line x1="532.7" y1="162.8" x2="537.2" y2="162.8" stroke="#151515" stroke-width="1.4"/>
<text x="531.8" y="165.6" font-size="9.3" class="b" text-anchor="end">0</text>
<line x1="553.4" y1="162.8" x2="553.4" y2="166.20000000000002" stroke="#151515" stroke-width="1.4"/>
<text x="553.4" y="175.0" font-size="8.5" class="b" text-anchor="middle">RAW</text>
<line x1="591.2" y1="162.8" x2="591.2" y2="166.20000000000002" stroke="#151515" stroke-width="1.4"/>
<text x="591.2" y="175.0" font-size="8.5" class="b" text-anchor="middle">BMDM</text>
<line x1="629.3" y1="162.8" x2="629.3" y2="166.20000000000002" stroke="#151515" stroke-width="1.4"/>
<text x="629.3" y="175.0" font-size="8.5" class="b" text-anchor="middle">THP-1</text>
<line x1="667.2" y1="162.8" x2="667.2" y2="166.20000000000002" stroke="#151515" stroke-width="1.4"/>
<text x="667.2" y="175.0" font-size="8.5" class="b" text-anchor="middle">PBMC</text>
<rect x="540.4" y="16.1" width="13.6" height="5.5" rx="0.8" fill="#EB201B"/>
<text x="560.0" y="21.4" font-size="7.8" class="b">NC</text>
<rect x="540.4" y="24.6" width="13.6" height="5.5" rx="0.8" fill="#F2DCE1"/>
<text x="560.0" y="29.8" font-size="7.8" class="b">siNSUN2</text>
<rect x="540.4" y="32.9" width="13.6" height="5.5" rx="0.8" fill="#CBE5EC"/>
<text x="560.0" y="38.1" font-size="7.8" class="b">siNSUN2+siSOCS3</text>
<path d="M544.3 57.6V53.0H562.5V57.6" stroke="#151515" stroke-width="1.75" fill="none"/>
<path d="M544.3 67.6V63.0H553.4V67.6" stroke="#151515" stroke-width="1.75" fill="none"/>
<text x="553.4" y="52.0" font-size="6.3" class="b" text-anchor="middle">n.s.</text>
<text x="548.9" y="64.7" font-size="7.40" class="b" text-anchor="middle">****</text>
<path d="M582.1 57.6V53.0H600.3V57.6" stroke="#151515" stroke-width="1.75" fill="none"/>
<path d="M582.1 67.6V63.0H591.2V67.6" stroke="#151515" stroke-width="1.75" fill="none"/>
<text x="591.2" y="54.7" font-size="7.40" class="b" text-anchor="middle">*</text>
<text x="586.7" y="64.7" font-size="7.40" class="b" text-anchor="middle">****</text>
<path d="M620.2 57.6V53.0H638.4V57.6" stroke="#151515" stroke-width="1.75" fill="none"/>
<path d="M620.2 67.6V63.0H629.3V67.6" stroke="#151515" stroke-width="1.75" fill="none"/>
<text x="629.3" y="52.0" font-size="6.3" class="b" text-anchor="middle">n.s.</text>
<text x="624.8" y="64.7" font-size="7.40" class="b" text-anchor="middle">****</text>
<path d="M658.1 57.6V53.0H676.3V57.6" stroke="#151515" stroke-width="1.75" fill="none"/>
<path d="M658.1 67.6V63.0H667.2V67.6" stroke="#151515" stroke-width="1.75" fill="none"/>
<text x="667.2" y="52.0" font-size="6.3" class="b" text-anchor="middle">n.s.</text>
<text x="662.7" y="64.7" font-size="7.40" class="b" text-anchor="middle">****</text>
<text transform="translate(513.2 89.5) rotate(-90)" font-size="9.5" class="b" text-anchor="middle">Relative mRNA expression level</text>
<text transform="translate(524.0 87.3) rotate(-90)" font-size="9.5" class="b" text-anchor="middle">of STAT3 in cell lines</text>
<path d="M352.4 332.0V329.1M350.4 329.1H354.4" stroke="#EB201B" stroke-width="1.65" fill="none"/>
<path d="M348.0 341.4V332.2Q348.0 331.0 349.2 331.0H355.5Q356.7 331.0 356.7 332.2V341.4Z" fill="#EB201B"/>
<path d="M361.8 291.7V276.9M359.8 276.9H363.8" stroke="#F2DCE1" stroke-width="1.65" fill="none"/>
<path d="M357.4 341.4V291.9Q357.4 290.7 358.6 290.7H364.9Q366.1 290.7 366.1 291.9V341.4Z" fill="#F2DCE1"/>
<path d="M371.2 332.4V327.0M369.2 327.0H373.2" stroke="#CBE5EC" stroke-width="1.65" fill="none"/>
<path d="M366.9 341.4V332.6Q366.9 331.4 368.1 331.4H374.4Q375.6 331.4 375.6 332.6V341.4Z" fill="#CBE5EC"/>
<path d="M392.2 334.0V332.0M390.2 332.0H394.2" stroke="#EB201B" stroke-width="1.65" fill="none"/>
<path d="M387.8 341.4V334.2Q387.8 333.0 389.0 333.0H395.3Q396.5 333.0 396.5 334.2V341.4Z" fill="#EB201B"/>
<path d="M401.6 304.9V295.3M399.6 295.3H403.6" stroke="#F2DCE1" stroke-width="1.65" fill="none"/>
<path d="M397.2 341.4V305.1Q397.2 303.9 398.4 303.9H404.8Q405.9 303.9 405.9 305.1V341.4Z" fill="#F2DCE1"/>
<path d="M411.1 329.0V323.4M409.1 323.4H413.1" stroke="#CBE5EC" stroke-width="1.65" fill="none"/>
<path d="M406.7 341.4V329.2Q406.7 328.0 407.9 328.0H414.2Q415.4 328.0 415.4 329.2V341.4Z" fill="#CBE5EC"/>
<path d="M432.1 324.6V315.0M430.1 315.0H434.1" stroke="#EB201B" stroke-width="1.65" fill="none"/>
<path d="M427.7 341.4V324.8Q427.7 323.6 428.9 323.6H435.2Q436.4 323.6 436.4 324.8V341.4Z" fill="#EB201B"/>
<path d="M441.5 275.2V258.9M439.5 258.9H443.5" stroke="#F2DCE1" stroke-width="1.65" fill="none"/>
<path d="M437.1 341.4V275.4Q437.1 274.2 438.3 274.2H444.6Q445.8 274.2 445.8 275.4V341.4Z" fill="#F2DCE1"/>
<path d="M450.9 323.8V316.8M448.9 316.8H452.9" stroke="#CBE5EC" stroke-width="1.65" fill="none"/>
<path d="M446.6 341.4V324.0Q446.6 322.8 447.8 322.8H454.1Q455.3 322.8 455.3 324.0V341.4Z" fill="#CBE5EC"/>
<path d="M472.0 323.8V314.2M470.0 314.2H474.0" stroke="#EB201B" stroke-width="1.65" fill="none"/>
<path d="M467.6 341.4V324.0Q467.6 322.8 468.8 322.8H475.1Q476.3 322.8 476.3 324.0V341.4Z" fill="#EB201B"/>
<path d="M481.4 285.7V278.2M479.4 278.2H483.4" stroke="#F2DCE1" stroke-width="1.65" fill="none"/>
<path d="M477.1 341.4V285.9Q477.1 284.7 478.2 284.7H484.6Q485.8 284.7 485.8 285.9V341.4Z" fill="#F2DCE1"/>
<path d="M490.9 332.5V326.6M488.9 326.6H492.9" stroke="#CBE5EC" stroke-width="1.65" fill="none"/>
<path d="M486.5 341.4V332.7Q486.5 331.5 487.7 331.5H494.0Q495.2 331.5 495.2 332.7V341.4Z" fill="#CBE5EC"/>
<path d="M344.6 206.9V342.45" stroke="#151515" stroke-width="1.75" fill="none"/>
<path d="M343.73 341.4H499.0" stroke="#151515" stroke-width="2.1" fill="none"/>
<line x1="341.3" y1="207.6" x2="344.6" y2="207.6" stroke="#151515" stroke-width="1.4"/>
<text x="340.1" y="209.9" font-size="7.7" class="b" text-anchor="end">12</text>
<line x1="341.3" y1="252.1" x2="344.6" y2="252.1" stroke="#151515" stroke-width="1.4"/>
<text x="340.1" y="254.4" font-size="7.7" class="b" text-anchor="end">8</text>
<line x1="341.3" y1="297.0" x2="344.6" y2="297.0" stroke="#151515" stroke-width="1.4"/>
<text x="340.1" y="299.3" font-size="7.7" class="b" text-anchor="end">4</text>
<line x1="341.3" y1="341.4" x2="344.6" y2="341.4" stroke="#151515" stroke-width="1.4"/>
<text x="340.1" y="343.7" font-size="7.7" class="b" text-anchor="end">0</text>
<line x1="361.8" y1="341.4" x2="361.8" y2="344.79999999999995" stroke="#151515" stroke-width="1.4"/>
<text x="361.8" y="352.8" font-size="7.9" class="b" text-anchor="middle">RAW</text>
<line x1="401.6" y1="341.4" x2="401.6" y2="344.79999999999995" stroke="#151515" stroke-width="1.4"/>
<text x="401.6" y="352.8" font-size="7.9" class="b" text-anchor="middle">BMDM</text>
<line x1="441.5" y1="341.4" x2="441.5" y2="344.79999999999995" stroke="#151515" stroke-width="1.4"/>
<text x="441.5" y="352.8" font-size="7.9" class="b" text-anchor="middle">THP-1</text>
<line x1="481.4" y1="341.4" x2="481.4" y2="344.79999999999995" stroke="#151515" stroke-width="1.4"/>
<text x="481.4" y="352.8" font-size="7.9" class="b" text-anchor="middle">PBMC</text>
<rect x="349.2" y="205.1" width="12.5" height="5.2" rx="0.8" fill="#EB201B"/>
<text x="367.7" y="210.0" font-size="7.25" class="b">NC</text>
<rect x="349.2" y="213.8" width="12.5" height="5.2" rx="0.8" fill="#F2DCE1"/>
<text x="367.7" y="218.7" font-size="7.25" class="b">siNSUN2</text>
<rect x="349.2" y="222.5" width="12.5" height="5.2" rx="0.8" fill="#CBE5EC"/>
<text x="367.7" y="227.4" font-size="7.25" class="b">siNSUN2+siSOCS3</text>
<path d="M352.4 244.6V240.4H371.2V244.6" stroke="#151515" stroke-width="1.75" fill="none"/>
<path d="M352.4 253.7V249.5H361.8V253.7" stroke="#151515" stroke-width="1.75" fill="none"/>
<text x="361.8" y="239.4" font-size="5.7" class="b" text-anchor="middle">n.s.</text>
<text x="357.1" y="250.8" font-size="6.60" class="b" text-anchor="middle">****</text>
<path d="M392.2 244.6V240.4H411.1V244.6" stroke="#151515" stroke-width="1.75" fill="none"/>
<path d="M392.2 253.7V249.5H401.6V253.7" stroke="#151515" stroke-width="1.75" fill="none"/>
<text x="401.6" y="239.4" font-size="5.7" class="b" text-anchor="middle">n.s.</text>
<text x="396.9" y="250.8" font-size="6.60" class="b" text-anchor="middle">****</text>
<path d="M432.1 244.6V240.4H450.9V244.6" stroke="#151515" stroke-width="1.75" fill="none"/>
<path d="M432.1 253.7V249.5H441.5V253.7" stroke="#151515" stroke-width="1.75" fill="none"/>
<text x="441.5" y="239.4" font-size="5.7" class="b" text-anchor="middle">n.s.</text>
<text x="436.8" y="250.8" font-size="6.60" class="b" text-anchor="middle">****</text>
<path d="M472.0 244.6V240.4H490.9V244.6" stroke="#151515" stroke-width="1.75" fill="none"/>
<path d="M472.0 253.7V249.5H481.4V253.7" stroke="#151515" stroke-width="1.75" fill="none"/>
<text x="481.4" y="239.4" font-size="5.7" class="b" text-anchor="middle">n.s.</text>
<text x="476.7" y="250.8" font-size="6.60" class="b" text-anchor="middle">****</text>
<text transform="translate(328.3 274.2) rotate(-90)" font-size="10.1" class="b" text-anchor="middle">IFN-y expression in cell lines</text>
<path d="M534.7 280.6V256.2M532.7 256.2H536.7" stroke="#EB201B" stroke-width="1.65" fill="none"/>
<path d="M530.4 340.9V280.8Q530.4 279.6 531.6 279.6H537.8Q539.0 279.6 539.0 280.8V340.9Z" fill="#EB201B"/>
<path d="M544.1 332.2V323.6M542.1 323.6H546.1" stroke="#F2DCE1" stroke-width="1.65" fill="none"/>
<path d="M539.8 340.9V332.4Q539.8 331.2 541.0 331.2H547.2Q548.4 331.2 548.4 332.4V340.9Z" fill="#F2DCE1"/>
<path d="M553.5 297.6V290.7M551.5 290.7H555.5" stroke="#CBE5EC" stroke-width="1.65" fill="none"/>
<path d="M549.2 340.9V297.8Q549.2 296.6 550.4 296.6H556.6Q557.8 296.6 557.8 297.8V340.9Z" fill="#CBE5EC"/>
<path d="M574.7 274.2V265.1M572.7 265.1H576.7" stroke="#EB201B" stroke-width="1.65" fill="none"/>
<path d="M570.4 340.9V274.4Q570.4 273.2 571.6 273.2H577.8Q579.0 273.2 579.0 274.4V340.9Z" fill="#EB201B"/>
<path d="M584.1 330.0V322.9M582.1 322.9H586.1" stroke="#F2DCE1" stroke-width="1.65" fill="none"/>
<path d="M579.8 340.9V330.2Q579.8 329.0 581.0 329.0H587.2Q588.4 329.0 588.4 330.2V340.9Z" fill="#F2DCE1"/>
<path d="M593.5 290.3V274.2M591.5 274.2H595.5" stroke="#CBE5EC" stroke-width="1.65" fill="none"/>
<path d="M589.2 340.9V290.5Q589.2 289.3 590.4 289.3H596.6Q597.8 289.3 597.8 290.5V340.9Z" fill="#CBE5EC"/>
<path d="M614.7 288.4V278.3M612.7 278.3H616.7" stroke="#EB201B" stroke-width="1.65" fill="none"/>
<path d="M610.4 340.9V288.6Q610.4 287.4 611.6 287.4H617.8Q619.0 287.4 619.0 288.6V340.9Z" fill="#EB201B"/>
<path d="M624.1 325.4V318.3M622.1 318.3H626.1" stroke="#F2DCE1" stroke-width="1.65" fill="none"/>
<path d="M619.8 340.9V325.6Q619.8 324.4 621.0 324.4H627.2Q628.4 324.4 628.4 325.6V340.9Z" fill="#F2DCE1"/>
<path d="M633.5 298.4V288.0M631.5 288.0H635.5" stroke="#CBE5EC" stroke-width="1.65" fill="none"/>
<path d="M629.2 340.9V298.6Q629.2 297.4 630.4 297.4H636.6Q637.8 297.4 637.8 298.6V340.9Z" fill="#CBE5EC"/>
<path d="M654.5 285.4V270.5M652.5 270.5H656.5" stroke="#EB201B" stroke-width="1.65" fill="none"/>
<path d="M650.2 340.9V285.6Q650.2 284.4 651.4 284.4H657.6Q658.8 284.4 658.8 285.6V340.9Z" fill="#EB201B"/>
<path d="M663.9 330.0V325.0M661.9 325.0H665.9" stroke="#F2DCE1" stroke-width="1.65" fill="none"/>
<path d="M659.6 340.9V330.2Q659.6 329.0 660.8 329.0H667.0Q668.2 329.0 668.2 330.2V340.9Z" fill="#F2DCE1"/>
<path d="M673.3 295.7V276.9M671.3 276.9H675.3" stroke="#CBE5EC" stroke-width="1.65" fill="none"/>
<path d="M669.0 340.9V295.9Q669.0 294.7 670.2 294.7H676.4Q677.6 294.7 677.6 295.9V340.9Z" fill="#CBE5EC"/>
<path d="M526.6 206.5V341.95" stroke="#151515" stroke-width="1.75" fill="none"/>
<path d="M525.73 340.9H681.5" stroke="#151515" stroke-width="2.1" fill="none"/>
<line x1="523.3000000000001" y1="244.2" x2="526.6" y2="244.2" stroke="#151515" stroke-width="1.4"/>
<text x="522.1" y="246.5" font-size="7.7" class="b" text-anchor="end">8</text>
<line x1="523.3000000000001" y1="292.4" x2="526.6" y2="292.4" stroke="#151515" stroke-width="1.4"/>
<text x="522.1" y="294.7" font-size="7.7" class="b" text-anchor="end">4</text>
<line x1="523.3000000000001" y1="340.9" x2="526.6" y2="340.9" stroke="#151515" stroke-width="1.4"/>
<text x="522.1" y="343.2" font-size="7.7" class="b" text-anchor="end">0</text>
<line x1="544.1" y1="340.9" x2="544.1" y2="344.29999999999995" stroke="#151515" stroke-width="1.4"/>
<text x="544.1" y="352.6" font-size="7.9" class="b" text-anchor="middle">RAW</text>
<line x1="584.1" y1="340.9" x2="584.1" y2="344.29999999999995" stroke="#151515" stroke-width="1.4"/>
<text x="584.1" y="352.6" font-size="7.9" class="b" text-anchor="middle">BMDM</text>
<line x1="624.1" y1="340.9" x2="624.1" y2="344.29999999999995" stroke="#151515" stroke-width="1.4"/>
<text x="624.1" y="352.6" font-size="7.9" class="b" text-anchor="middle">THP-1</text>
<line x1="663.9" y1="340.9" x2="663.9" y2="344.29999999999995" stroke="#151515" stroke-width="1.4"/>
<text x="663.9" y="352.6" font-size="7.9" class="b" text-anchor="middle">PBMC</text>
<rect x="531.0" y="205.2" width="12.4" height="5.2" rx="0.8" fill="#EB201B"/>
<text x="549.2" y="210.1" font-size="7.25" class="b">NC</text>
<rect x="531.0" y="213.8" width="12.4" height="5.2" rx="0.8" fill="#F2DCE1"/>
<text x="549.2" y="218.7" font-size="7.25" class="b">siNSUN2</text>
<rect x="531.0" y="222.3" width="12.4" height="5.2" rx="0.8" fill="#CBE5EC"/>
<text x="549.2" y="227.2" font-size="7.25" class="b">siNSUN2+siSOCS3</text>
<path d="M534.7 242.1V237.9H553.5V242.1" stroke="#151515" stroke-width="1.75" fill="none"/>
<path d="M534.7 252.0V247.8H544.1V252.0" stroke="#151515" stroke-width="1.75" fill="none"/>
<text x="544.1" y="236.9" font-size="5.7" class="b" text-anchor="middle">n.s.</text>
<text x="539.4" y="249.1" font-size="6.60" class="b" text-anchor="middle">****</text>
<path d="M574.7 242.1V237.9H593.5V242.1" stroke="#151515" stroke-width="1.75" fill="none"/>
<path d="M574.7 252.0V247.8H584.1V252.0" stroke="#151515" stroke-width="1.75" fill="none"/>
<text x="584.1" y="236.9" font-size="5.7" class="b" text-anchor="middle">n.s.</text>
<text x="579.4" y="249.1" font-size="6.60" class="b" text-anchor="middle">****</text>
<path d="M614.7 242.1V237.9H633.5V242.1" stroke="#151515" stroke-width="1.75" fill="none"/>
<path d="M614.7 252.0V247.8H624.1V252.0" stroke="#151515" stroke-width="1.75" fill="none"/>
<text x="624.1" y="236.9" font-size="5.7" class="b" text-anchor="middle">n.s.</text>
<text x="619.4" y="249.1" font-size="6.60" class="b" text-anchor="middle">****</text>
<path d="M654.5 242.1V237.9H673.3V242.1" stroke="#151515" stroke-width="1.75" fill="none"/>
<path d="M654.5 252.0V247.8H663.9V252.0" stroke="#151515" stroke-width="1.75" fill="none"/>
<text x="663.9" y="236.9" font-size="5.7" class="b" text-anchor="middle">n.s.</text>
<text x="659.2" y="249.1" font-size="6.60" class="b" text-anchor="middle">****</text>
<text transform="translate(515.1 274.4) rotate(-90)" font-size="10.0" class="b" text-anchor="middle">IL-10 expression in cell lines</text>
<path d="M179.4 479.6V466.0M177.1 466.0H181.8" stroke="#EB201B" stroke-width="1.3" fill="none"/>
<path d="M175.2 535.2V479.8Q175.2 478.6 176.4 478.6H182.5Q183.7 478.6 183.7 479.8V535.2Z" fill="#EB201B"/>
<path d="M190.0 520.9V512.0M187.7 512.0H192.3" stroke="#F2DCE1" stroke-width="1.3" fill="none"/>
<path d="M185.8 535.2V521.1Q185.8 519.9 186.9 519.9H193.1Q194.2 519.9 194.2 521.1V535.2Z" fill="#F2DCE1"/>
<path d="M200.5 478.3V464.2M198.2 464.2H202.8" stroke="#CBE5EC" stroke-width="1.3" fill="none"/>
<path d="M196.3 535.2V478.5Q196.3 477.3 197.5 477.3H203.6Q204.8 477.3 204.8 478.5V535.2Z" fill="#CBE5EC"/>
<path d="M223.7 481.7V473.9M221.3 473.9H226.0" stroke="#EB201B" stroke-width="1.3" fill="none"/>
<path d="M219.4 535.2V481.9Q219.4 480.7 220.6 480.7H226.7Q227.9 480.7 227.9 481.9V535.2Z" fill="#EB201B"/>
<path d="M234.2 518.3V511.2M231.9 511.2H236.5" stroke="#F2DCE1" stroke-width="1.3" fill="none"/>
<path d="M230.0 535.2V518.5Q230.0 517.3 231.2 517.3H237.3Q238.5 517.3 238.5 518.5V535.2Z" fill="#F2DCE1"/>
<path d="M244.8 494.6V481.0M242.4 481.0H247.1" stroke="#CBE5EC" stroke-width="1.3" fill="none"/>
<path d="M240.5 535.2V494.8Q240.5 493.6 241.7 493.6H247.8Q249.0 493.6 249.0 494.8V535.2Z" fill="#CBE5EC"/>
<path d="M267.9 482.3V478.4M265.6 478.4H270.2" stroke="#EB201B" stroke-width="1.3" fill="none"/>
<path d="M263.6 535.2V482.5Q263.6 481.3 264.8 481.3H270.9Q272.1 481.3 272.1 482.5V535.2Z" fill="#EB201B"/>
<path d="M278.4 517.2V511.2M276.1 511.2H280.7" stroke="#F2DCE1" stroke-width="1.3" fill="none"/>
<path d="M274.2 535.2V517.4Q274.2 516.2 275.4 516.2H281.5Q282.7 516.2 282.7 517.4V535.2Z" fill="#F2DCE1"/>
<path d="M289.0 477.0V462.1M286.7 462.1H291.3" stroke="#CBE5EC" stroke-width="1.3" fill="none"/>
<path d="M284.7 535.2V477.2Q284.7 476.0 285.9 476.0H292.0Q293.2 476.0 293.2 477.2V535.2Z" fill="#CBE5EC"/>
<path d="M312.1 479.6V470.0M309.8 470.0H314.4" stroke="#EB201B" stroke-width="1.3" fill="none"/>
<path d="M307.9 535.2V479.8Q307.9 478.6 309.1 478.6H315.2Q316.4 478.6 316.4 479.8V535.2Z" fill="#EB201B"/>
<path d="M322.7 514.3V506.7M320.4 506.7H325.0" stroke="#F2DCE1" stroke-width="1.3" fill="none"/>
<path d="M318.4 535.2V514.5Q318.4 513.3 319.6 513.3H325.8Q326.9 513.3 326.9 514.5V535.2Z" fill="#F2DCE1"/>
<path d="M333.2 474.9V458.1M330.9 458.1H335.6" stroke="#CBE5EC" stroke-width="1.3" fill="none"/>
<path d="M329.0 535.2V475.1Q329.0 473.9 330.2 473.9H336.3Q337.5 473.9 337.5 475.1V535.2Z" fill="#CBE5EC"/>
<path d="M170.8 376.95V535.98" stroke="#151515" stroke-width="1.35" fill="none"/>
<path d="M170.12 535.2H342.1" stroke="#151515" stroke-width="1.55" fill="none"/>
<line x1="166.3" y1="377.7" x2="170.8" y2="377.7" stroke="#151515" stroke-width="1.5"/>
<text x="165.4" y="381.7" font-size="10.5" class="b" text-anchor="end">3</text>
<line x1="166.3" y1="430.2" x2="170.8" y2="430.2" stroke="#151515" stroke-width="1.5"/>
<text x="165.4" y="434.2" font-size="10.5" class="b" text-anchor="end">2</text>
<line x1="166.3" y1="482.7" x2="170.8" y2="482.7" stroke="#151515" stroke-width="1.5"/>
<text x="165.4" y="486.7" font-size="10.5" class="b" text-anchor="end">1</text>
<line x1="166.3" y1="535.2" x2="170.8" y2="535.2" stroke="#151515" stroke-width="1.5"/>
<text x="165.4" y="539.2" font-size="10.5" class="b" text-anchor="end">0</text>
<line x1="190.0" y1="535.2" x2="190.0" y2="539.4000000000001" stroke="#151515" stroke-width="1.5"/>
<text x="190.0" y="549.8" font-size="10.0" class="b" text-anchor="middle">RAW</text>
<line x1="234.2" y1="535.2" x2="234.2" y2="539.4000000000001" stroke="#151515" stroke-width="1.5"/>
<text x="234.2" y="549.8" font-size="10.0" class="b" text-anchor="middle">BMDM</text>
<line x1="278.4" y1="535.2" x2="278.4" y2="539.4000000000001" stroke="#151515" stroke-width="1.5"/>
<text x="278.4" y="549.8" font-size="10.0" class="b" text-anchor="middle">THP-1</text>
<line x1="322.7" y1="535.2" x2="322.7" y2="539.4000000000001" stroke="#151515" stroke-width="1.5"/>
<text x="322.7" y="549.8" font-size="10.0" class="b" text-anchor="middle">PBMC</text>
<rect x="175.7" y="373.8" width="14.5" height="4.8" rx="0.8" fill="#EB201B"/>
<text x="198.0" y="379.2" font-size="9.1" class="b">NC</text>
<rect x="175.7" y="383.7" width="14.5" height="4.8" rx="0.8" fill="#F2DCE1"/>
<text x="198.0" y="389.1" font-size="9.1" class="b">siNSUN2</text>
<rect x="175.7" y="393.6" width="14.5" height="4.8" rx="0.8" fill="#CBE5EC"/>
<text x="198.0" y="399.0" font-size="9.1" class="b">siNSUN2+siSOCS3</text>
<path d="M179.4 420.2V414.9H200.5V420.2" stroke="#151515" stroke-width="1.25" fill="none"/>
<path d="M179.4 432.7V427.4H190.0V432.7" stroke="#151515" stroke-width="1.25" fill="none"/>
<text x="190.0" y="413.7" font-size="7.6" class="b" text-anchor="middle">n.s.</text>
<text x="184.7" y="428.6" font-size="8.80" class="b" text-anchor="middle">***</text>
<path d="M223.7 420.2V414.9H244.8V420.2" stroke="#151515" stroke-width="1.25" fill="none"/>
<path d="M223.7 432.7V427.4H234.2V432.7" stroke="#151515" stroke-width="1.25" fill="none"/>
<text x="234.2" y="413.7" font-size="7.6" class="b" text-anchor="middle">n.s.</text>
<text x="228.9" y="428.6" font-size="8.80" class="b" text-anchor="middle">**</text>
<path d="M267.9 420.2V414.9H289.0V420.2" stroke="#151515" stroke-width="1.25" fill="none"/>
<path d="M267.9 432.7V427.4H278.4V432.7" stroke="#151515" stroke-width="1.25" fill="none"/>
<text x="278.4" y="413.7" font-size="7.6" class="b" text-anchor="middle">n.s.</text>
<text x="273.1" y="428.6" font-size="8.80" class="b" text-anchor="middle">**</text>
<path d="M312.1 420.2V414.9H333.2V420.2" stroke="#151515" stroke-width="1.25" fill="none"/>
<path d="M312.1 432.7V427.4H322.7V432.7" stroke="#151515" stroke-width="1.25" fill="none"/>
<text x="322.7" y="413.7" font-size="7.6" class="b" text-anchor="middle">n.s.</text>
<text x="317.4" y="428.6" font-size="8.80" class="b" text-anchor="middle">***</text>
<text transform="translate(143.8 457.5) rotate(-90)" font-size="11.3" class="b" text-anchor="middle">Relative mRNA expression level</text>
<text transform="translate(156.8 455.5) rotate(-90)" font-size="11.3" class="b" text-anchor="middle">of ARG-1 in cell lines</text>
<path d="M407.8 483.1V478.1M405.5 478.1H410.1" stroke="#EB201B" stroke-width="1.3" fill="none"/>
<path d="M403.5 537.0V483.3Q403.5 482.1 404.7 482.1H410.9Q412.1 482.1 412.1 483.3V537.0Z" fill="#EB201B"/>
<path d="M418.4 529.9V526.0M416.1 526.0H420.7" stroke="#F2DCE1" stroke-width="1.3" fill="none"/>
<path d="M414.1 537.0V530.1Q414.1 528.9 415.3 528.9H421.5Q422.7 528.9 422.7 530.1V537.0Z" fill="#F2DCE1"/>
<path d="M429.0 494.9V488.4M426.7 488.4H431.3" stroke="#CBE5EC" stroke-width="1.3" fill="none"/>
<path d="M424.7 537.0V495.1Q424.7 493.9 425.9 493.9H432.1Q433.3 493.9 433.3 495.1V537.0Z" fill="#CBE5EC"/>
<path d="M451.9 481.8V472.9M449.6 472.9H454.2" stroke="#EB201B" stroke-width="1.3" fill="none"/>
<path d="M447.6 537.0V482.0Q447.6 480.8 448.8 480.8H455.0Q456.2 480.8 456.2 482.0V537.0Z" fill="#EB201B"/>
<path d="M462.5 531.2V526.7M460.2 526.7H464.8" stroke="#F2DCE1" stroke-width="1.3" fill="none"/>
<path d="M458.2 537.0V531.4Q458.2 530.2 459.4 530.2H465.6Q466.8 530.2 466.8 531.4V537.0Z" fill="#F2DCE1"/>
<path d="M473.1 495.7V485.2M470.8 485.2H475.4" stroke="#CBE5EC" stroke-width="1.3" fill="none"/>
<path d="M468.8 537.0V495.9Q468.8 494.7 470.0 494.7H476.2Q477.4 494.7 477.4 495.9V537.0Z" fill="#CBE5EC"/>
<path d="M496.1 483.9V478.1M493.8 478.1H498.4" stroke="#EB201B" stroke-width="1.3" fill="none"/>
<path d="M491.8 537.0V484.1Q491.8 482.9 493.0 482.9H499.2Q500.4 482.9 500.4 484.1V537.0Z" fill="#EB201B"/>
<path d="M506.7 525.7V518.8M504.4 518.8H509.0" stroke="#F2DCE1" stroke-width="1.3" fill="none"/>
<path d="M502.4 537.0V525.9Q502.4 524.7 503.6 524.7H509.8Q511.0 524.7 511.0 525.9V537.0Z" fill="#F2DCE1"/>
<path d="M517.3 483.1V463.4M515.0 463.4H519.6" stroke="#CBE5EC" stroke-width="1.3" fill="none"/>
<path d="M513.0 537.0V483.3Q513.0 482.1 514.2 482.1H520.4Q521.6 482.1 521.6 483.3V537.0Z" fill="#CBE5EC"/>
<path d="M540.2 482.3V478.1M537.9 478.1H542.5" stroke="#EB201B" stroke-width="1.3" fill="none"/>
<path d="M535.9 537.0V482.5Q535.9 481.3 537.1 481.3H543.3Q544.5 481.3 544.5 482.5V537.0Z" fill="#EB201B"/>
<path d="M550.8 525.9V521.5M548.5 521.5H553.1" stroke="#F2DCE1" stroke-width="1.3" fill="none"/>
<path d="M546.5 537.0V526.1Q546.5 524.9 547.7 524.9H553.9Q555.1 524.9 555.1 526.1V537.0Z" fill="#F2DCE1"/>
<path d="M561.4 482.3V467.3M559.1 467.3H563.7" stroke="#CBE5EC" stroke-width="1.3" fill="none"/>
<path d="M557.1 537.0V482.5Q557.1 481.3 558.3 481.3H564.5Q565.7 481.3 565.7 482.5V537.0Z" fill="#CBE5EC"/>
<path d="M399.0 378.75V537.77" stroke="#151515" stroke-width="1.35" fill="none"/>
<path d="M398.32 537.0H570.3" stroke="#151515" stroke-width="1.55" fill="none"/>
<line x1="394.5" y1="379.5" x2="399.0" y2="379.5" stroke="#151515" stroke-width="1.5"/>
<text x="393.6" y="383.5" font-size="10.5" class="b" text-anchor="end">3</text>
<line x1="394.5" y1="432.0" x2="399.0" y2="432.0" stroke="#151515" stroke-width="1.5"/>
<text x="393.6" y="436.0" font-size="10.5" class="b" text-anchor="end">2</text>
<line x1="394.5" y1="484.4" x2="399.0" y2="484.4" stroke="#151515" stroke-width="1.5"/>
<text x="393.6" y="488.4" font-size="10.5" class="b" text-anchor="end">1</text>
<line x1="394.5" y1="537.0" x2="399.0" y2="537.0" stroke="#151515" stroke-width="1.5"/>
<text x="393.6" y="541.0" font-size="10.5" class="b" text-anchor="end">0</text>
<line x1="418.4" y1="537.0" x2="418.4" y2="541.2" stroke="#151515" stroke-width="1.5"/>
<text x="418.4" y="551.6" font-size="10.0" class="b" text-anchor="middle">RAW</text>
<line x1="462.5" y1="537.0" x2="462.5" y2="541.2" stroke="#151515" stroke-width="1.5"/>
<text x="462.5" y="551.6" font-size="10.0" class="b" text-anchor="middle">BMDM</text>
<line x1="506.7" y1="537.0" x2="506.7" y2="541.2" stroke="#151515" stroke-width="1.5"/>
<text x="506.7" y="551.6" font-size="10.0" class="b" text-anchor="middle">THP-1</text>
<line x1="550.8" y1="537.0" x2="550.8" y2="541.2" stroke="#151515" stroke-width="1.5"/>
<text x="550.8" y="551.6" font-size="10.0" class="b" text-anchor="middle">PBMC</text>
<rect x="403.5" y="372.3" width="14.5" height="4.8" rx="0.8" fill="#EB201B"/>
<text x="426.1" y="377.7" font-size="9.1" class="b">NC</text>
<rect x="403.5" y="382.2" width="14.5" height="4.8" rx="0.8" fill="#F2DCE1"/>
<text x="426.1" y="387.6" font-size="9.1" class="b">siNSUN2</text>
<rect x="403.5" y="392.0" width="14.5" height="4.8" rx="0.8" fill="#CBE5EC"/>
<text x="426.1" y="397.4" font-size="9.1" class="b">siNSUN2+siSOCS3</text>
<path d="M407.8 415.5V410.2H429.0V415.5" stroke="#151515" stroke-width="1.25" fill="none"/>
<path d="M407.8 426.8V421.5H418.4V426.8" stroke="#151515" stroke-width="1.25" fill="none"/>
<text x="418.4" y="409.0" font-size="7.6" class="b" text-anchor="middle">n.s.</text>
<text x="413.1" y="422.7" font-size="8.80" class="b" text-anchor="middle">***</text>
<path d="M451.9 415.5V410.2H473.1V415.5" stroke="#151515" stroke-width="1.25" fill="none"/>
<path d="M451.9 426.8V421.5H462.5V426.8" stroke="#151515" stroke-width="1.25" fill="none"/>
<text x="462.5" y="409.0" font-size="7.6" class="b" text-anchor="middle">n.s.</text>
<text x="457.2" y="422.7" font-size="8.80" class="b" text-anchor="middle">****</text>
<path d="M496.1 415.5V410.2H517.3V415.5" stroke="#151515" stroke-width="1.25" fill="none"/>
<path d="M496.1 426.8V421.5H506.7V426.8" stroke="#151515" stroke-width="1.25" fill="none"/>
<text x="506.7" y="409.0" font-size="7.6" class="b" text-anchor="middle">n.s.</text>
<text x="501.4" y="422.7" font-size="8.80" class="b" text-anchor="middle">***</text>
<path d="M540.2 415.5V410.2H561.4V415.5" stroke="#151515" stroke-width="1.25" fill="none"/>
<path d="M540.2 426.8V421.5H550.8V426.8" stroke="#151515" stroke-width="1.25" fill="none"/>
<text x="550.8" y="409.0" font-size="7.6" class="b" text-anchor="middle">n.s.</text>
<text x="545.5" y="422.7" font-size="8.80" class="b" text-anchor="middle">***</text>
<text transform="translate(372.2 458.7) rotate(-90)" font-size="11.3" class="b" text-anchor="middle">Relative mRNA expression level</text>
<text transform="translate(385.4 457.7) rotate(-90)" font-size="11.3" class="b" text-anchor="middle">of IL-10 in cell lines</text>
<path d="M182.6 728.8V726.5M180.3 726.5H184.9" stroke="#EB201B" stroke-width="1.3" fill="none"/>
<path d="M178.3 738.0V729.0Q178.3 727.8 179.5 727.8H185.7Q186.9 727.8 186.9 729.0V738.0Z" fill="#EB201B"/>
<path d="M193.2 665.2V649.8M190.9 649.8H195.5" stroke="#F2DCE1" stroke-width="1.3" fill="none"/>
<path d="M188.9 738.0V665.4Q188.9 664.2 190.1 664.2H196.3Q197.5 664.2 197.5 665.4V738.0Z" fill="#F2DCE1"/>
<path d="M203.7 733.0V729.9M201.4 729.9H206.0" stroke="#CBE5EC" stroke-width="1.3" fill="none"/>
<path d="M199.4 738.0V733.2Q199.4 732.0 200.6 732.0H206.8Q208.0 732.0 208.0 733.2V738.0Z" fill="#CBE5EC"/>
<path d="M226.8 728.8V725.9M224.5 725.9H229.1" stroke="#EB201B" stroke-width="1.3" fill="none"/>
<path d="M222.5 738.0V729.0Q222.5 727.8 223.7 727.8H229.9Q231.1 727.8 231.1 729.0V738.0Z" fill="#EB201B"/>
<path d="M237.4 669.1V653.0M235.1 653.0H239.7" stroke="#F2DCE1" stroke-width="1.3" fill="none"/>
<path d="M233.1 738.0V669.3Q233.1 668.1 234.2 668.1H240.5Q241.7 668.1 241.7 669.3V738.0Z" fill="#F2DCE1"/>
<path d="M247.9 732.2V727.0M245.6 727.0H250.2" stroke="#CBE5EC" stroke-width="1.3" fill="none"/>
<path d="M243.6 738.0V732.4Q243.6 731.2 244.8 731.2H251.0Q252.2 731.2 252.2 732.4V738.0Z" fill="#CBE5EC"/>
<path d="M270.9 729.0V727.0M268.6 727.0H273.2" stroke="#EB201B" stroke-width="1.3" fill="none"/>
<path d="M266.6 738.0V729.2Q266.6 728.0 267.8 728.0H274.0Q275.2 728.0 275.2 729.2V738.0Z" fill="#EB201B"/>
<path d="M281.5 705.1V697.5M279.2 697.5H283.8" stroke="#F2DCE1" stroke-width="1.3" fill="none"/>
<path d="M277.2 738.0V705.3Q277.2 704.1 278.4 704.1H284.6Q285.8 704.1 285.8 705.3V738.0Z" fill="#F2DCE1"/>
<path d="M292.0 727.7V723.3M289.7 723.3H294.3" stroke="#CBE5EC" stroke-width="1.3" fill="none"/>
<path d="M287.7 738.0V727.9Q287.7 726.7 288.9 726.7H295.1Q296.3 726.7 296.3 727.9V738.0Z" fill="#CBE5EC"/>
<path d="M315.3 728.8V727.0M313.0 727.0H317.6" stroke="#EB201B" stroke-width="1.3" fill="none"/>
<path d="M311.0 738.0V729.0Q311.0 727.8 312.2 727.8H318.4Q319.6 727.8 319.6 729.0V738.0Z" fill="#EB201B"/>
<path d="M325.9 692.3V687.0M323.6 687.0H328.2" stroke="#F2DCE1" stroke-width="1.3" fill="none"/>
<path d="M321.6 738.0V692.5Q321.6 691.3 322.8 691.3H329.0Q330.2 691.3 330.2 692.5V738.0Z" fill="#F2DCE1"/>
<path d="M336.4 728.8V725.1M334.1 725.1H338.7" stroke="#CBE5EC" stroke-width="1.3" fill="none"/>
<path d="M332.1 738.0V729.0Q332.1 727.8 333.3 727.8H339.5Q340.7 727.8 340.7 729.0V738.0Z" fill="#CBE5EC"/>
<path d="M174.5 579.75V738.77" stroke="#151515" stroke-width="1.35" fill="none"/>
<path d="M173.82 738.0H345.4" stroke="#151515" stroke-width="1.55" fill="none"/>
<line x1="170.0" y1="590.7" x2="174.5" y2="590.7" stroke="#151515" stroke-width="1.5"/>
<text x="169.1" y="594.7" font-size="10.5" class="b" text-anchor="end">15</text>
<line x1="170.0" y1="639.6" x2="174.5" y2="639.6" stroke="#151515" stroke-width="1.5"/>
<text x="169.1" y="643.6" font-size="10.5" class="b" text-anchor="end">10</text>
<line x1="170.0" y1="688.6" x2="174.5" y2="688.6" stroke="#151515" stroke-width="1.5"/>
<text x="169.1" y="692.6" font-size="10.5" class="b" text-anchor="end">5</text>
<line x1="170.0" y1="738.0" x2="174.5" y2="738.0" stroke="#151515" stroke-width="1.5"/>
<text x="169.1" y="742.0" font-size="10.5" class="b" text-anchor="end">0</text>
<line x1="193.2" y1="738.0" x2="193.2" y2="742.2" stroke="#151515" stroke-width="1.5"/>
<text x="193.2" y="752.7" font-size="10.0" class="b" text-anchor="middle">RAW</text>
<line x1="237.4" y1="738.0" x2="237.4" y2="742.2" stroke="#151515" stroke-width="1.5"/>
<text x="237.4" y="752.7" font-size="10.0" class="b" text-anchor="middle">BMDM</text>
<line x1="281.5" y1="738.0" x2="281.5" y2="742.2" stroke="#151515" stroke-width="1.5"/>
<text x="281.5" y="752.7" font-size="10.0" class="b" text-anchor="middle">THP-1</text>
<line x1="325.9" y1="738.0" x2="325.9" y2="742.2" stroke="#151515" stroke-width="1.5"/>
<text x="325.9" y="752.7" font-size="10.0" class="b" text-anchor="middle">PBMC</text>
<rect x="178.3" y="572.1" width="14.5" height="4.8" rx="0.8" fill="#EB201B"/>
<text x="201.4" y="577.5" font-size="9.1" class="b">NC</text>
<rect x="178.3" y="581.9" width="14.5" height="4.8" rx="0.8" fill="#F2DCE1"/>
<text x="201.4" y="587.3" font-size="9.1" class="b">siNSUN2</text>
<rect x="178.3" y="591.8" width="14.5" height="4.8" rx="0.8" fill="#CBE5EC"/>
<text x="201.4" y="597.2" font-size="9.1" class="b">siNSUN2+siSOCS3</text>
<path d="M182.6 615.3V610.0H203.7V615.3" stroke="#151515" stroke-width="1.25" fill="none"/>
<path d="M182.6 627.5999999999999V622.3H193.2V627.5999999999999" stroke="#151515" stroke-width="1.25" fill="none"/>
<text x="193.2" y="608.8" font-size="7.6" class="b" text-anchor="middle">n.s.</text>
<text x="187.9" y="623.5" font-size="8.80" class="b" text-anchor="middle">****</text>
<path d="M226.8 615.3V610.0H247.9V615.3" stroke="#151515" stroke-width="1.25" fill="none"/>
<path d="M226.8 627.5999999999999V622.3H237.4V627.5999999999999" stroke="#151515" stroke-width="1.25" fill="none"/>
<text x="237.4" y="608.8" font-size="7.6" class="b" text-anchor="middle">n.s.</text>
<text x="232.1" y="623.5" font-size="8.80" class="b" text-anchor="middle">****</text>
<path d="M270.9 615.3V610.0H292.0V615.3" stroke="#151515" stroke-width="1.25" fill="none"/>
<path d="M270.9 627.5999999999999V622.3H281.5V627.5999999999999" stroke="#151515" stroke-width="1.25" fill="none"/>
<text x="281.5" y="608.8" font-size="7.6" class="b" text-anchor="middle">n.s.</text>
<text x="276.2" y="623.5" font-size="8.80" class="b" text-anchor="middle">**</text>
<path d="M315.3 615.3V610.0H336.4V615.3" stroke="#151515" stroke-width="1.25" fill="none"/>
<path d="M315.3 627.5999999999999V622.3H325.9V627.5999999999999" stroke="#151515" stroke-width="1.25" fill="none"/>
<text x="325.9" y="608.8" font-size="7.6" class="b" text-anchor="middle">n.s.</text>
<text x="320.6" y="623.5" font-size="8.80" class="b" text-anchor="middle">***</text>
<text transform="translate(141.1 659.2) rotate(-90)" font-size="11.3" class="b" text-anchor="middle">Relative mRNA expression level</text>
<text transform="translate(154.3 658.5) rotate(-90)" font-size="11.3" class="b" text-anchor="middle">of TNF-± in cell lines</text>
<path d="M410.7 726.9V724.3M408.4 724.3H413.0" stroke="#EB201B" stroke-width="1.3" fill="none"/>
<path d="M406.4 738.0V727.1Q406.4 725.9 407.6 725.9H413.8Q415.0 725.9 415.0 727.1V738.0Z" fill="#EB201B"/>
<path d="M421.3 663.9V648.5M419.0 648.5H423.6" stroke="#F2DCE1" stroke-width="1.3" fill="none"/>
<path d="M417.0 738.0V664.1Q417.0 662.9 418.2 662.9H424.4Q425.6 662.9 425.6 664.1V738.0Z" fill="#F2DCE1"/>
<path d="M431.9 724.8V718.5M429.6 718.5H434.2" stroke="#CBE5EC" stroke-width="1.3" fill="none"/>
<path d="M427.6 738.0V725.0Q427.6 723.8 428.8 723.8H435.0Q436.2 723.8 436.2 725.0V738.0Z" fill="#CBE5EC"/>
<path d="M454.9 727.7V726.5M452.6 726.5H457.2" stroke="#EB201B" stroke-width="1.3" fill="none"/>
<path d="M450.6 738.0V727.9Q450.6 726.7 451.8 726.7H458.0Q459.2 726.7 459.2 727.9V738.0Z" fill="#EB201B"/>
<path d="M465.5 655.0V647.2M463.2 647.2H467.8" stroke="#F2DCE1" stroke-width="1.3" fill="none"/>
<path d="M461.2 738.0V655.2Q461.2 654.0 462.4 654.0H468.6Q469.8 654.0 469.8 655.2V738.0Z" fill="#F2DCE1"/>
<path d="M476.1 719.8V708.8M473.8 708.8H478.4" stroke="#CBE5EC" stroke-width="1.3" fill="none"/>
<path d="M471.8 738.0V720.0Q471.8 718.8 473.0 718.8H479.2Q480.4 718.8 480.4 720.0V738.0Z" fill="#CBE5EC"/>
<path d="M499.2 727.7V725.9M496.9 725.9H501.5" stroke="#EB201B" stroke-width="1.3" fill="none"/>
<path d="M494.9 738.0V727.9Q494.9 726.7 496.1 726.7H502.3Q503.5 726.7 503.5 727.9V738.0Z" fill="#EB201B"/>
<path d="M509.8 683.0V673.9M507.5 673.9H512.1" stroke="#F2DCE1" stroke-width="1.3" fill="none"/>
<path d="M505.5 738.0V683.2Q505.5 682.0 506.7 682.0H512.9Q514.1 682.0 514.1 683.2V738.0Z" fill="#F2DCE1"/>
<path d="M520.4 731.7V725.9M518.1 725.9H522.7" stroke="#CBE5EC" stroke-width="1.3" fill="none"/>
<path d="M516.1 738.0V731.9Q516.1 730.7 517.3 730.7H523.5Q524.7 730.7 524.7 731.9V738.0Z" fill="#CBE5EC"/>
<path d="M543.4 726.9V725.1M541.1 725.1H545.7" stroke="#EB201B" stroke-width="1.3" fill="none"/>
<path d="M539.1 738.0V727.1Q539.1 725.9 540.3 725.9H546.5Q547.7 725.9 547.7 727.1V738.0Z" fill="#EB201B"/>
<path d="M554.0 672.3V660.8M551.7 660.8H556.3" stroke="#F2DCE1" stroke-width="1.3" fill="none"/>
<path d="M549.7 738.0V672.5Q549.7 671.3 550.9 671.3H557.1Q558.3 671.3 558.3 672.5V738.0Z" fill="#F2DCE1"/>
<path d="M564.6 732.2V727.7M562.3 727.7H566.9" stroke="#CBE5EC" stroke-width="1.3" fill="none"/>
<path d="M560.3 738.0V732.4Q560.3 731.2 561.5 731.2H567.7Q568.9 731.2 568.9 732.4V738.0Z" fill="#CBE5EC"/>
<path d="M403.0 579.75V738.77" stroke="#151515" stroke-width="1.35" fill="none"/>
<path d="M402.32 738.0H573.6" stroke="#151515" stroke-width="1.55" fill="none"/>
<line x1="398.5" y1="625.2" x2="403.0" y2="625.2" stroke="#151515" stroke-width="1.5"/>
<text x="397.6" y="629.2" font-size="10.5" class="b" text-anchor="end">10</text>
<line x1="398.5" y1="681.9" x2="403.0" y2="681.9" stroke="#151515" stroke-width="1.5"/>
<text x="397.6" y="685.9" font-size="10.5" class="b" text-anchor="end">5</text>
<line x1="398.5" y1="738.0" x2="403.0" y2="738.0" stroke="#151515" stroke-width="1.5"/>
<text x="397.6" y="742.0" font-size="10.5" class="b" text-anchor="end">0</text>
<line x1="421.3" y1="738.0" x2="421.3" y2="742.2" stroke="#151515" stroke-width="1.5"/>
<text x="421.3" y="752.7" font-size="10.0" class="b" text-anchor="middle">RAW</text>
<line x1="465.5" y1="738.0" x2="465.5" y2="742.2" stroke="#151515" stroke-width="1.5"/>
<text x="465.5" y="752.7" font-size="10.0" class="b" text-anchor="middle">BMDM</text>
<line x1="509.8" y1="738.0" x2="509.8" y2="742.2" stroke="#151515" stroke-width="1.5"/>
<text x="509.8" y="752.7" font-size="10.0" class="b" text-anchor="middle">THP-1</text>
<line x1="554.0" y1="738.0" x2="554.0" y2="742.2" stroke="#151515" stroke-width="1.5"/>
<text x="554.0" y="752.7" font-size="10.0" class="b" text-anchor="middle">PBMC</text>
<rect x="406.4" y="572.1" width="14.5" height="4.8" rx="0.8" fill="#EB201B"/>
<text x="429.3" y="577.5" font-size="9.1" class="b">NC</text>
<rect x="406.4" y="581.9" width="14.5" height="4.8" rx="0.8" fill="#F2DCE1"/>
<text x="429.3" y="587.3" font-size="9.1" class="b">siNSUN2</text>
<rect x="406.4" y="591.8" width="14.5" height="4.8" rx="0.8" fill="#CBE5EC"/>
<text x="429.3" y="597.2" font-size="9.1" class="b">siNSUN2+siSOCS3</text>
<path d="M410.7 615.3V610.0H431.9V615.3" stroke="#151515" stroke-width="1.25" fill="none"/>
<path d="M410.7 627.0999999999999V621.8H421.3V627.0999999999999" stroke="#151515" stroke-width="1.25" fill="none"/>
<text x="421.3" y="608.8" font-size="7.6" class="b" text-anchor="middle">n.s.</text>
<text x="416.0" y="623.0" font-size="8.80" class="b" text-anchor="middle">****</text>
<path d="M454.9 615.3V610.0H476.1V615.3" stroke="#151515" stroke-width="1.25" fill="none"/>
<path d="M454.9 627.0999999999999V621.8H465.5V627.0999999999999" stroke="#151515" stroke-width="1.25" fill="none"/>
<text x="465.5" y="608.8" font-size="7.6" class="b" text-anchor="middle">n.s.</text>
<text x="460.2" y="623.0" font-size="8.80" class="b" text-anchor="middle">****</text>
<path d="M499.2 615.3V610.0H520.4V615.3" stroke="#151515" stroke-width="1.25" fill="none"/>
<path d="M499.2 627.0999999999999V621.8H509.8V627.0999999999999" stroke="#151515" stroke-width="1.25" fill="none"/>
<text x="509.8" y="608.8" font-size="7.6" class="b" text-anchor="middle">n.s.</text>
<text x="504.5" y="623.0" font-size="8.80" class="b" text-anchor="middle">****</text>
<path d="M543.4 615.3V610.0H564.6V615.3" stroke="#151515" stroke-width="1.25" fill="none"/>
<path d="M543.4 627.0999999999999V621.8H554.0V627.0999999999999" stroke="#151515" stroke-width="1.25" fill="none"/>
<text x="554.0" y="608.8" font-size="7.6" class="b" text-anchor="middle">n.s.</text>
<text x="548.7" y="623.0" font-size="8.80" class="b" text-anchor="middle">****</text>
<text transform="translate(369.1 659.2) rotate(-90)" font-size="11.3" class="b" text-anchor="middle">Relative mRNA expression level</text>
<text transform="translate(382.3 658.0) rotate(-90)" font-size="11.3" class="b" text-anchor="middle">of iNOS in cell lines</text>
</svg>
</body></html>
